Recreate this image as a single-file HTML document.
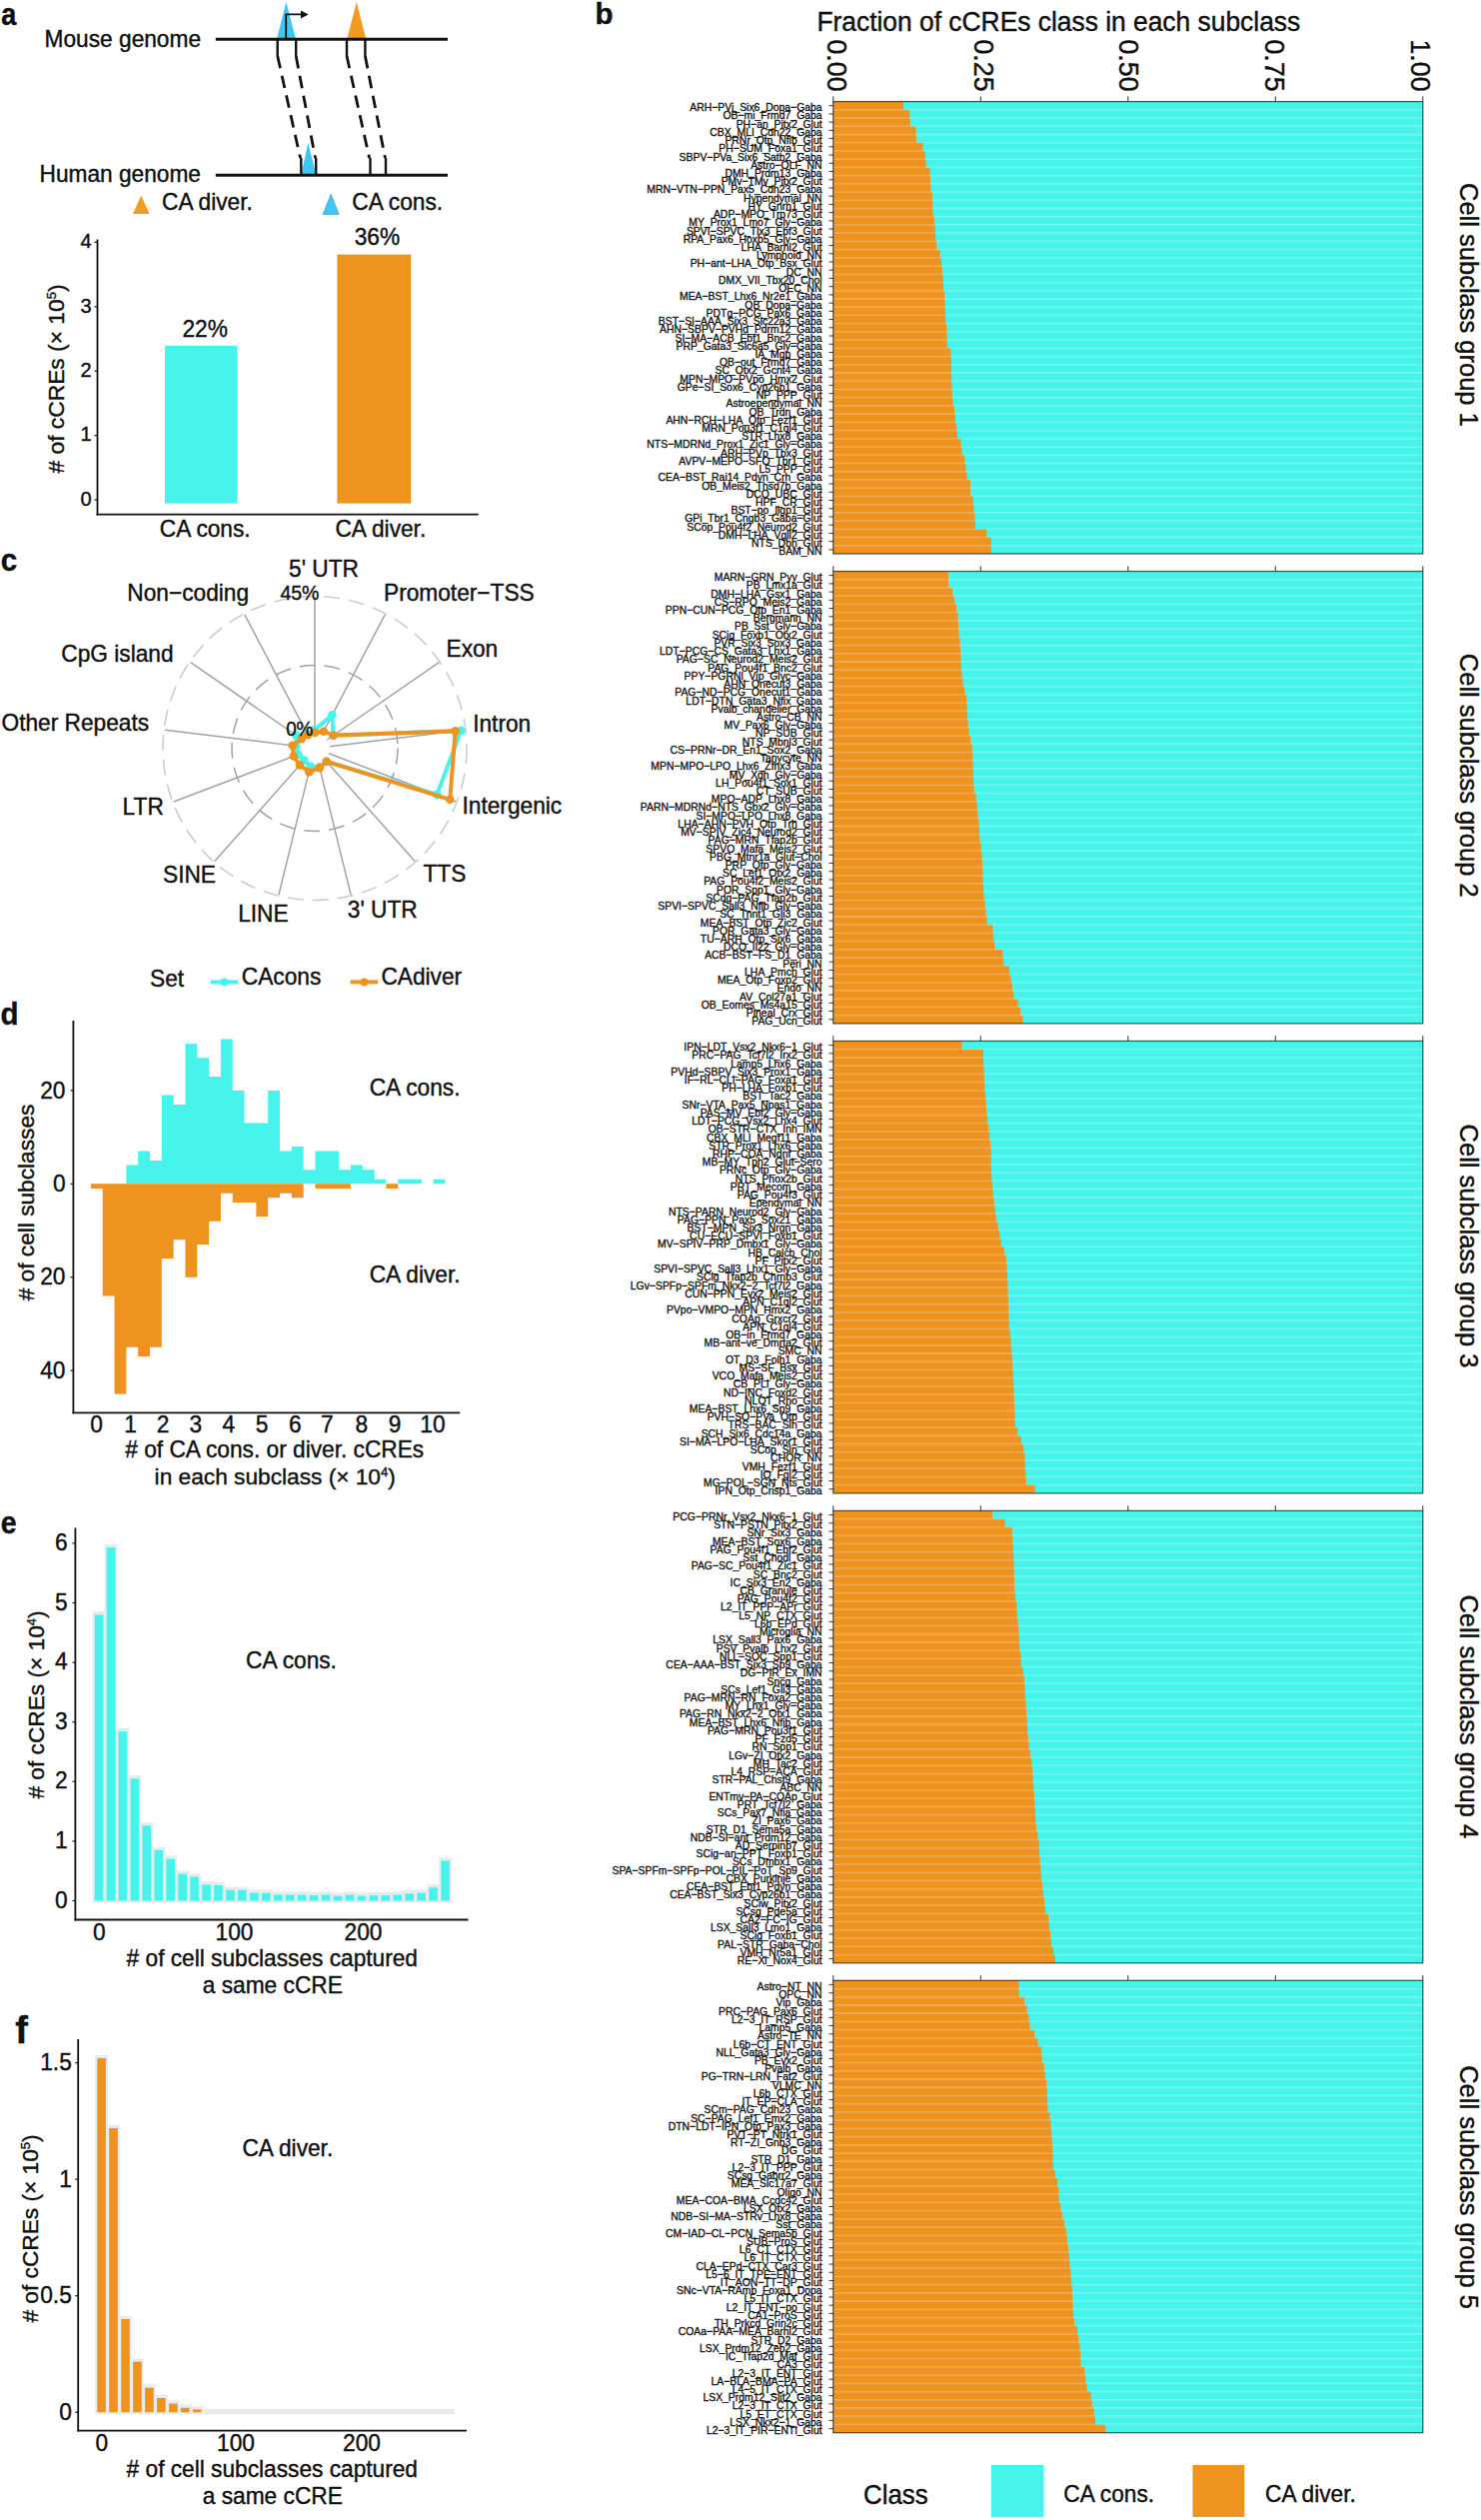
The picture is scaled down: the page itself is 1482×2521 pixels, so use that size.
<!DOCTYPE html>
<html><head><meta charset="utf-8"><title>Figure</title>
<style>html,body{margin:0;padding:0;background:#fff;}svg{display:block;}text{font-family:"Liberation Sans",sans-serif;stroke:#111;stroke-width:0.4px;} g.lbl text{stroke-width:0.32px;}</style>
</head><body>
<svg xmlns="http://www.w3.org/2000/svg" width="1482" height="2521" viewBox="0 0 1482 2521" font-family='"Liberation Sans", sans-serif'><text transform="translate(1.30,25.40) scale(1,1.15)" font-size="27" font-weight="bold" fill="#111111">a</text>
<text transform="translate(595.50,24.20) scale(1,1.02)" font-size="29.5" font-weight="bold" fill="#111111">b</text>
<text transform="translate(0.80,571.20) scale(1,1.04)" font-size="29.5" font-weight="bold" fill="#111111">c</text>
<text transform="translate(0.60,1025.00) scale(1,1.04)" font-size="29.5" font-weight="bold" fill="#111111">d</text>
<text transform="translate(0.80,1533.60) scale(1,1.1)" font-size="28.5" font-weight="bold" fill="#111111">e</text>
<text x="15.20" y="2044.00" font-size="38" font-weight="bold" fill="#111111">f</text>
<text transform="translate(44.60,46.60) scale(1,1.05)" font-size="22.7" fill="#111111">Mouse genome</text>
<text transform="translate(39.50,181.70) scale(1,1.05)" font-size="22.7" fill="#111111">Human genome</text>
<polygon points="277.2,38 286.4,2.1 295.7,38" fill="#40C6F2"/>
<polygon points="347.5,38 356.8,2.1 366,38" fill="#F29B22"/>
<polygon points="301.5,174 308.3,143 316.2,174" fill="#40C6F2"/>
<line x1="215.8" y1="39.2" x2="448" y2="39.2" stroke="#111111" stroke-width="3"/>
<line x1="215.8" y1="175.3" x2="448" y2="175.3" stroke="#111111" stroke-width="3"/>
<path d="M286.2,39 V14.4 H302" fill="none" stroke="#111111" stroke-width="1.8"/>
<polygon points="301,10.4 308.6,14.4 301,18.4" fill="#111111"/>
<line x1="277.7" y1="40" x2="277.7" y2="56" stroke="#111111" stroke-width="2.4"/>
<line x1="277.7" y1="56" x2="300.5" y2="158" stroke="#111111" stroke-width="2.8" stroke-dasharray="12.6,7.6"/>
<line x1="301.3" y1="158" x2="301.3" y2="174" stroke="#111111" stroke-width="2.4"/>
<line x1="296.2" y1="40" x2="296.2" y2="56" stroke="#111111" stroke-width="2.4"/>
<line x1="296.2" y1="56" x2="315.5" y2="158" stroke="#111111" stroke-width="2.8" stroke-dasharray="12.6,7.6"/>
<line x1="316.2" y1="158" x2="316.2" y2="174" stroke="#111111" stroke-width="2.4"/>
<line x1="347.0" y1="40" x2="347.0" y2="56" stroke="#111111" stroke-width="2.4"/>
<line x1="347.0" y1="56" x2="369.6" y2="158" stroke="#111111" stroke-width="2.8" stroke-dasharray="12.6,7.6"/>
<line x1="370.5" y1="158" x2="370.5" y2="174" stroke="#111111" stroke-width="2.4"/>
<line x1="365.4" y1="40" x2="365.4" y2="56" stroke="#111111" stroke-width="2.4"/>
<line x1="365.4" y1="56" x2="385.4" y2="158" stroke="#111111" stroke-width="2.8" stroke-dasharray="12.6,7.6"/>
<line x1="386.0" y1="158" x2="386.0" y2="174" stroke="#111111" stroke-width="2.4"/>
<polygon points="133,214 141.2,195.5 149.5,214" fill="#F29B22"/>
<text transform="translate(162.00,209.60) scale(1,1.05)" font-size="22.7" fill="#111111">CA diver.</text>
<polygon points="323.1,214.5 331.2,194.2 339.2,214.5" fill="#40C6F2" stroke="#5AA6C0" stroke-width="0.8"/>
<text transform="translate(352.30,209.80) scale(1,1.05)" font-size="22.7" fill="#111111">CA cons.</text>
<line x1="97.5" y1="239.4" x2="97.5" y2="515.5" stroke="#111111" stroke-width="1.8"/>
<line x1="96.6" y1="514.6" x2="478.7" y2="514.6" stroke="#111111" stroke-width="1.8"/>
<line x1="94.5" y1="500.0" x2="97.5" y2="500.0" stroke="#111111" stroke-width="1.2"/>
<text x="91.50" y="505.80" font-size="20" text-anchor="end" fill="#111111">0</text>
<line x1="94.5" y1="435.6" x2="97.5" y2="435.6" stroke="#111111" stroke-width="1.2"/>
<text x="91.50" y="441.40" font-size="20" text-anchor="end" fill="#111111">1</text>
<line x1="94.5" y1="371.2" x2="97.5" y2="371.2" stroke="#111111" stroke-width="1.2"/>
<text x="91.50" y="377.00" font-size="20" text-anchor="end" fill="#111111">2</text>
<line x1="94.5" y1="306.8" x2="97.5" y2="306.8" stroke="#111111" stroke-width="1.2"/>
<text x="91.50" y="312.60" font-size="20" text-anchor="end" fill="#111111">3</text>
<line x1="94.5" y1="242.4" x2="97.5" y2="242.4" stroke="#111111" stroke-width="1.2"/>
<text x="91.50" y="248.20" font-size="20" text-anchor="end" fill="#111111">4</text>
<rect x="165" y="345.8" width="72.6" height="157.8" fill="#47F4EB"/>
<rect x="337.4" y="254.6" width="73.8" height="249.0" fill="#EE9220"/>
<text transform="translate(205.20,336.50) scale(1,1.05)" font-size="22.7" text-anchor="middle" fill="#111111">22%</text>
<text transform="translate(377.40,245.30) scale(1,1.05)" font-size="22.7" text-anchor="middle" fill="#111111">36%</text>
<text transform="translate(205.20,536.50) scale(1,1.05)" font-size="22.7" text-anchor="middle" fill="#111111">CA cons.</text>
<text transform="translate(380.80,536.50) scale(1,1.05)" font-size="22.7" text-anchor="middle" fill="#111111">CA diver.</text>
<text transform="translate(64.3,379) rotate(-90)" font-size="22.8" text-anchor="middle" fill="#111111"># of cCREs (× 10<tspan font-size="13" dy="-8">5</tspan><tspan dy="8">)</tspan></text>
<circle cx="315.0" cy="748.5" r="152.0" fill="none" stroke="#CDCDCD" stroke-width="1.6" stroke-dasharray="16,9"/>
<circle cx="315.0" cy="748.5" r="83.0" fill="none" stroke="#A2A2A2" stroke-width="1.5" stroke-dasharray="16,9"/>
<line x1="315.0" y1="733.5" x2="315.0" y2="597.5" stroke="#A3A3A3" stroke-width="1.5"/>
<line x1="322.0" y1="735.2" x2="385.2" y2="614.8" stroke="#A3A3A3" stroke-width="1.5"/>
<line x1="327.3" y1="740.0" x2="439.3" y2="662.7" stroke="#A3A3A3" stroke-width="1.5"/>
<line x1="329.9" y1="746.7" x2="464.9" y2="730.3" stroke="#A3A3A3" stroke-width="1.5"/>
<line x1="329.0" y1="753.8" x2="456.2" y2="802.0" stroke="#A3A3A3" stroke-width="1.5"/>
<line x1="324.9" y1="759.7" x2="415.1" y2="861.5" stroke="#A3A3A3" stroke-width="1.5"/>
<line x1="318.6" y1="763.1" x2="351.1" y2="895.1" stroke="#A3A3A3" stroke-width="1.5"/>
<line x1="311.4" y1="763.1" x2="278.9" y2="895.1" stroke="#A3A3A3" stroke-width="1.5"/>
<line x1="305.1" y1="759.7" x2="214.9" y2="861.5" stroke="#A3A3A3" stroke-width="1.5"/>
<line x1="301.0" y1="753.8" x2="173.8" y2="802.0" stroke="#A3A3A3" stroke-width="1.5"/>
<line x1="300.1" y1="746.7" x2="165.1" y2="730.3" stroke="#A3A3A3" stroke-width="1.5"/>
<line x1="302.7" y1="740.0" x2="190.7" y2="662.7" stroke="#A3A3A3" stroke-width="1.5"/>
<line x1="308.0" y1="735.2" x2="244.8" y2="614.8" stroke="#A3A3A3" stroke-width="1.5"/>
<polygon points="315.0,729.9 332.4,715.4 333.3,735.9 461.3,730.7 437.3,794.9 326.8,761.8 319.7,767.5 310.5,766.6 304.4,760.5 298.4,754.8 296.2,746.2 296.4,735.7 307.3,733.9" fill="none" stroke="#47F4EB" stroke-width="4" stroke-linejoin="round"/>
<circle cx="315.0" cy="729.9" r="4.3" fill="#47F4EB"/>
<circle cx="332.4" cy="715.4" r="4.3" fill="#47F4EB"/>
<circle cx="333.3" cy="735.9" r="4.3" fill="#47F4EB"/>
<circle cx="461.3" cy="730.7" r="4.3" fill="#47F4EB"/>
<circle cx="437.3" cy="794.9" r="4.3" fill="#47F4EB"/>
<circle cx="326.8" cy="761.8" r="4.3" fill="#47F4EB"/>
<circle cx="319.7" cy="767.5" r="4.3" fill="#47F4EB"/>
<circle cx="310.5" cy="766.6" r="4.3" fill="#47F4EB"/>
<circle cx="304.4" cy="760.5" r="4.3" fill="#47F4EB"/>
<circle cx="298.4" cy="754.8" r="4.3" fill="#47F4EB"/>
<circle cx="296.2" cy="746.2" r="4.3" fill="#47F4EB"/>
<circle cx="296.4" cy="735.7" r="4.3" fill="#47F4EB"/>
<circle cx="307.3" cy="733.9" r="4.3" fill="#47F4EB"/>
<polygon points="315.0,732.9 323.8,731.7 333.8,735.5 455.6,731.4 450.3,799.8 326.8,761.8 319.8,768.1 309.2,772.2 300.0,765.4 293.9,756.5 292.6,745.8 301.7,739.3 308.0,735.2" fill="none" stroke="#EE9220" stroke-width="4" stroke-linejoin="round"/>
<circle cx="315.0" cy="732.9" r="4.3" fill="#EE9220"/>
<circle cx="323.8" cy="731.7" r="4.3" fill="#EE9220"/>
<circle cx="333.8" cy="735.5" r="4.3" fill="#EE9220"/>
<circle cx="455.6" cy="731.4" r="4.3" fill="#EE9220"/>
<circle cx="450.3" cy="799.8" r="4.3" fill="#EE9220"/>
<circle cx="326.8" cy="761.8" r="4.3" fill="#EE9220"/>
<circle cx="319.8" cy="768.1" r="4.3" fill="#EE9220"/>
<circle cx="309.2" cy="772.2" r="4.3" fill="#EE9220"/>
<circle cx="300.0" cy="765.4" r="4.3" fill="#EE9220"/>
<circle cx="293.9" cy="756.5" r="4.3" fill="#EE9220"/>
<circle cx="292.6" cy="745.8" r="4.3" fill="#EE9220"/>
<circle cx="301.7" cy="739.3" r="4.3" fill="#EE9220"/>
<circle cx="308.0" cy="735.2" r="4.3" fill="#EE9220"/>
<text transform="translate(289.10,576.70) scale(1,1.05)" font-size="22.7" fill="#111111">5' UTR</text>
<text transform="translate(319.40,599.60) scale(1,1.05)" font-size="19.5" text-anchor="end" fill="#111111">45%</text>
<text transform="translate(313.30,735.60) scale(1,1.05)" font-size="18.8" text-anchor="end" fill="#111111">0%</text>
<text transform="translate(384.00,600.80) scale(1,1.05)" font-size="22.7" fill="#111111">Promoter−TSS</text>
<text transform="translate(446.50,656.70) scale(1,1.05)" font-size="22.7" fill="#111111">Exon</text>
<text transform="translate(473.20,731.70) scale(1,1.05)" font-size="22.7" fill="#111111">Intron</text>
<text transform="translate(462.50,814.30) scale(1,1.05)" font-size="22.7" fill="#111111">Intergenic</text>
<text transform="translate(423.50,882.40) scale(1,1.05)" font-size="22.7" fill="#111111">TTS</text>
<text transform="translate(347.80,918.00) scale(1,1.05)" font-size="22.7" fill="#111111">3' UTR</text>
<text transform="translate(238.20,922.20) scale(1,1.05)" font-size="22.7" fill="#111111">LINE</text>
<text transform="translate(163.00,882.80) scale(1,1.05)" font-size="22.7" fill="#111111">SINE</text>
<text transform="translate(163.80,814.70) scale(1,1.05)" font-size="22.7" text-anchor="end" fill="#111111">LTR</text>
<text transform="translate(1.50,731.00) scale(1,1.05)" font-size="22.7" fill="#111111">Other Repeats</text>
<text transform="translate(61.30,661.50) scale(1,1.05)" font-size="22.7" fill="#111111">CpG island</text>
<text transform="translate(127.30,601.30) scale(1,1.05)" font-size="22.7" fill="#111111">Non−coding</text>
<text transform="translate(150.00,987.30) scale(1,1.05)" font-size="22.7" fill="#111111">Set</text>
<line x1="210.7" y1="982.4" x2="238.3" y2="982.4" stroke="#47F4EB" stroke-width="4"/>
<circle cx="224.5" cy="982.4" r="4" fill="#47F4EB"/>
<text transform="translate(241.80,985.40) scale(1,1.05)" font-size="22.7" fill="#111111">CAcons</text>
<line x1="350.6" y1="982.4" x2="378.2" y2="982.4" stroke="#EE9220" stroke-width="4"/>
<circle cx="364.4" cy="982.4" r="4" fill="#EE9220"/>
<text transform="translate(381.40,985.40) scale(1,1.05)" font-size="22.7" fill="#111111">CAdiver</text>
<path d="M90.90,1184.30 L90.90,1184.30 L102.72,1184.30 L102.72,1184.30 L114.54,1184.30 L114.54,1184.30 L126.36,1184.30 L126.36,1165.62 L138.18,1165.62 L138.18,1151.61 L150.00,1151.61 L150.00,1160.95 L161.82,1160.95 L161.82,1095.57 L173.64,1095.57 L173.64,1104.91 L185.46,1104.91 L185.46,1044.20 L197.28,1044.20 L197.28,1058.21 L209.10,1058.21 L209.10,1076.89 L220.92,1076.89 L220.92,1039.53 L232.74,1039.53 L232.74,1090.90 L244.56,1090.90 L244.56,1123.59 L256.38,1123.59 L256.38,1123.59 L268.20,1123.59 L268.20,1090.90 L280.02,1090.90 L280.02,1151.61 L291.84,1151.61 L291.84,1146.94 L303.66,1146.94 L303.66,1170.29 L315.48,1170.29 L315.48,1151.61 L327.30,1151.61 L327.30,1151.61 L339.12,1151.61 L339.12,1170.29 L350.94,1170.29 L350.94,1165.62 L362.76,1165.62 L362.76,1170.29 L374.58,1170.29 L374.58,1179.63 L386.40,1179.63 L386.40,1184.30 L398.22,1184.30 L398.22,1179.63 L410.04,1179.63 L410.04,1179.63 L421.86,1179.63 L421.86,1184.30 L433.68,1184.30 L433.68,1179.63 L445.50,1179.63 L445.50,1184.30 Z" fill="#47F4EB"/>
<path d="M90.90,1184.30 L90.90,1188.97 L102.72,1188.97 L102.72,1296.38 L114.54,1296.38 L114.54,1394.45 L126.36,1394.45 L126.36,1347.75 L138.18,1347.75 L138.18,1357.09 L150.00,1357.09 L150.00,1347.75 L161.82,1347.75 L161.82,1259.02 L173.64,1259.02 L173.64,1240.34 L185.46,1240.34 L185.46,1277.70 L197.28,1277.70 L197.28,1245.01 L209.10,1245.01 L209.10,1221.66 L220.92,1221.66 L220.92,1193.64 L232.74,1193.64 L232.74,1202.98 L244.56,1202.98 L244.56,1202.98 L256.38,1202.98 L256.38,1216.99 L268.20,1216.99 L268.20,1198.31 L280.02,1198.31 L280.02,1193.64 L291.84,1193.64 L291.84,1198.31 L303.66,1198.31 L303.66,1184.30 L315.48,1184.30 L315.48,1188.97 L327.30,1188.97 L327.30,1188.97 L339.12,1188.97 L339.12,1188.97 L350.94,1188.97 L350.94,1184.30 L362.76,1184.30 L362.76,1184.30 L374.58,1184.30 L374.58,1184.30 L386.40,1184.30 L386.40,1188.97 L398.22,1188.97 L398.22,1184.30 L410.04,1184.30 L410.04,1184.30 L421.86,1184.30 L421.86,1184.30 L433.68,1184.30 L433.68,1184.30 L445.50,1184.30 L445.50,1184.30 Z" fill="#EE9220"/>
<line x1="73.4" y1="1021" x2="73.4" y2="1414.2" stroke="#111111" stroke-width="1.8"/>
<line x1="72.5" y1="1413.3" x2="460.3" y2="1413.3" stroke="#111111" stroke-width="1.8"/>
<line x1="70.5" y1="1090.9" x2="73.4" y2="1090.9" stroke="#111111" stroke-width="1.2"/>
<text transform="translate(65.50,1098.50) scale(1,1.09)" font-size="22.7" text-anchor="end" fill="#111111">20</text>
<line x1="70.5" y1="1184.3" x2="73.4" y2="1184.3" stroke="#111111" stroke-width="1.2"/>
<text transform="translate(65.50,1191.90) scale(1,1.09)" font-size="22.7" text-anchor="end" fill="#111111">0</text>
<line x1="70.5" y1="1277.7" x2="73.4" y2="1277.7" stroke="#111111" stroke-width="1.2"/>
<text transform="translate(65.50,1285.30) scale(1,1.09)" font-size="22.7" text-anchor="end" fill="#111111">20</text>
<line x1="70.5" y1="1371.1" x2="73.4" y2="1371.1" stroke="#111111" stroke-width="1.2"/>
<text transform="translate(65.50,1378.70) scale(1,1.09)" font-size="22.7" text-anchor="end" fill="#111111">40</text>
<text transform="translate(96.50,1432.70) scale(1,1.09)" font-size="22.7" text-anchor="middle" fill="#111111">0</text>
<text transform="translate(130.60,1432.70) scale(1,1.09)" font-size="22.7" text-anchor="middle" fill="#111111">1</text>
<text transform="translate(163.00,1432.70) scale(1,1.09)" font-size="22.7" text-anchor="middle" fill="#111111">2</text>
<text transform="translate(195.70,1432.70) scale(1,1.09)" font-size="22.7" text-anchor="middle" fill="#111111">3</text>
<text transform="translate(228.90,1432.70) scale(1,1.09)" font-size="22.7" text-anchor="middle" fill="#111111">4</text>
<text transform="translate(262.10,1432.70) scale(1,1.09)" font-size="22.7" text-anchor="middle" fill="#111111">5</text>
<text transform="translate(295.30,1432.70) scale(1,1.09)" font-size="22.7" text-anchor="middle" fill="#111111">6</text>
<text transform="translate(327.20,1432.70) scale(1,1.09)" font-size="22.7" text-anchor="middle" fill="#111111">7</text>
<text transform="translate(361.80,1432.70) scale(1,1.09)" font-size="22.7" text-anchor="middle" fill="#111111">8</text>
<text transform="translate(395.00,1432.70) scale(1,1.09)" font-size="22.7" text-anchor="middle" fill="#111111">9</text>
<text transform="translate(432.90,1432.70) scale(1,1.09)" font-size="22.7" text-anchor="middle" fill="#111111">10</text>
<text transform="translate(274.70,1458.00) scale(1,1.05)" font-size="22.7" text-anchor="middle" fill="#111111"># of CA cons. or diver. cCREs</text>
<text x="275.2" y="1484.6" font-size="22.7" text-anchor="middle" fill="#111111">in each subclass (× 10<tspan font-size="13" dy="-8">4</tspan><tspan dy="8">)</tspan></text>
<text transform="translate(460.50,1095.60) scale(1,1.05)" font-size="22.7" text-anchor="end" fill="#111111">CA cons.</text>
<text transform="translate(460.50,1282.60) scale(1,1.05)" font-size="22.7" text-anchor="end" fill="#111111">CA diver.</text>
<text transform="translate(33.5,1203) rotate(-90)" font-size="22.7" text-anchor="middle" fill="#111111"># of cell subclasses</text>
<rect x="92.60" y="1612.22" width="12.8" height="291.28" fill="#E6ECEE"/>
<rect x="104.55" y="1544.87" width="12.8" height="358.63" fill="#E6ECEE"/>
<rect x="116.50" y="1729.04" width="12.8" height="174.46" fill="#E6ECEE"/>
<rect x="128.45" y="1776.12" width="12.8" height="127.38" fill="#E6ECEE"/>
<rect x="140.40" y="1823.20" width="12.8" height="80.30" fill="#E6ECEE"/>
<rect x="152.35" y="1847.64" width="12.8" height="55.86" fill="#E6ECEE"/>
<rect x="164.30" y="1856.58" width="12.8" height="46.92" fill="#E6ECEE"/>
<rect x="176.25" y="1871.48" width="12.8" height="32.02" fill="#E6ECEE"/>
<rect x="188.20" y="1874.46" width="12.8" height="29.04" fill="#E6ECEE"/>
<rect x="200.15" y="1882.21" width="12.8" height="21.29" fill="#E6ECEE"/>
<rect x="212.10" y="1882.80" width="12.8" height="20.70" fill="#E6ECEE"/>
<rect x="224.05" y="1887.57" width="12.8" height="15.93" fill="#E6ECEE"/>
<rect x="236.00" y="1887.57" width="12.8" height="15.93" fill="#E6ECEE"/>
<rect x="247.95" y="1890.55" width="12.8" height="12.95" fill="#E6ECEE"/>
<rect x="259.90" y="1890.55" width="12.8" height="12.95" fill="#E6ECEE"/>
<rect x="271.85" y="1892.34" width="12.8" height="11.16" fill="#E6ECEE"/>
<rect x="283.80" y="1892.34" width="12.8" height="11.16" fill="#E6ECEE"/>
<rect x="295.75" y="1892.34" width="12.8" height="11.16" fill="#E6ECEE"/>
<rect x="307.70" y="1892.94" width="12.8" height="10.56" fill="#E6ECEE"/>
<rect x="319.65" y="1892.34" width="12.8" height="11.16" fill="#E6ECEE"/>
<rect x="331.60" y="1893.53" width="12.8" height="9.97" fill="#E6ECEE"/>
<rect x="343.55" y="1892.34" width="12.8" height="11.16" fill="#E6ECEE"/>
<rect x="355.50" y="1893.53" width="12.8" height="9.97" fill="#E6ECEE"/>
<rect x="367.45" y="1892.94" width="12.8" height="10.56" fill="#E6ECEE"/>
<rect x="379.40" y="1892.94" width="12.8" height="10.56" fill="#E6ECEE"/>
<rect x="391.35" y="1892.34" width="12.8" height="11.16" fill="#E6ECEE"/>
<rect x="403.30" y="1891.15" width="12.8" height="12.35" fill="#E6ECEE"/>
<rect x="415.25" y="1890.55" width="12.8" height="12.95" fill="#E6ECEE"/>
<rect x="427.20" y="1885.19" width="12.8" height="18.31" fill="#E6ECEE"/>
<rect x="439.15" y="1858.37" width="12.8" height="45.13" fill="#E6ECEE"/>
<rect x="94.70" y="1615.42" width="8.6" height="286.08" fill="#47F4EB"/>
<rect x="106.65" y="1548.07" width="8.6" height="353.43" fill="#47F4EB"/>
<rect x="118.60" y="1732.24" width="8.6" height="169.26" fill="#47F4EB"/>
<rect x="130.55" y="1779.32" width="8.6" height="122.18" fill="#47F4EB"/>
<rect x="142.50" y="1826.40" width="8.6" height="75.10" fill="#47F4EB"/>
<rect x="154.45" y="1850.84" width="8.6" height="50.66" fill="#47F4EB"/>
<rect x="166.40" y="1859.78" width="8.6" height="41.72" fill="#47F4EB"/>
<rect x="178.35" y="1874.68" width="8.6" height="26.82" fill="#47F4EB"/>
<rect x="190.30" y="1877.66" width="8.6" height="23.84" fill="#47F4EB"/>
<rect x="202.25" y="1885.41" width="8.6" height="16.09" fill="#47F4EB"/>
<rect x="214.20" y="1886.00" width="8.6" height="15.50" fill="#47F4EB"/>
<rect x="226.15" y="1890.77" width="8.6" height="10.73" fill="#47F4EB"/>
<rect x="238.10" y="1890.77" width="8.6" height="10.73" fill="#47F4EB"/>
<rect x="250.05" y="1893.75" width="8.6" height="7.75" fill="#47F4EB"/>
<rect x="262.00" y="1893.75" width="8.6" height="7.75" fill="#47F4EB"/>
<rect x="273.95" y="1895.54" width="8.6" height="5.96" fill="#47F4EB"/>
<rect x="285.90" y="1895.54" width="8.6" height="5.96" fill="#47F4EB"/>
<rect x="297.85" y="1895.54" width="8.6" height="5.96" fill="#47F4EB"/>
<rect x="309.80" y="1896.14" width="8.6" height="5.36" fill="#47F4EB"/>
<rect x="321.75" y="1895.54" width="8.6" height="5.96" fill="#47F4EB"/>
<rect x="333.70" y="1896.73" width="8.6" height="4.77" fill="#47F4EB"/>
<rect x="345.65" y="1895.54" width="8.6" height="5.96" fill="#47F4EB"/>
<rect x="357.60" y="1896.73" width="8.6" height="4.77" fill="#47F4EB"/>
<rect x="369.55" y="1896.14" width="8.6" height="5.36" fill="#47F4EB"/>
<rect x="381.50" y="1896.14" width="8.6" height="5.36" fill="#47F4EB"/>
<rect x="393.45" y="1895.54" width="8.6" height="5.96" fill="#47F4EB"/>
<rect x="405.40" y="1894.35" width="8.6" height="7.15" fill="#47F4EB"/>
<rect x="417.35" y="1893.75" width="8.6" height="7.75" fill="#47F4EB"/>
<rect x="429.30" y="1888.39" width="8.6" height="13.11" fill="#47F4EB"/>
<rect x="441.25" y="1861.57" width="8.6" height="39.93" fill="#47F4EB"/>
<line x1="75.4" y1="1528.5" x2="75.4" y2="1921.4" stroke="#111111" stroke-width="1.8"/>
<line x1="74.5" y1="1920.5" x2="468.5" y2="1920.5" stroke="#111111" stroke-width="1.8"/>
<line x1="72.5" y1="1901.5" x2="75.4" y2="1901.5" stroke="#111111" stroke-width="1.2"/>
<text transform="translate(67.50,1908.50) scale(1,1.09)" font-size="22.7" text-anchor="end" fill="#111111">0</text>
<line x1="72.5" y1="1841.9" x2="75.4" y2="1841.9" stroke="#111111" stroke-width="1.2"/>
<text transform="translate(67.50,1848.90) scale(1,1.09)" font-size="22.7" text-anchor="end" fill="#111111">1</text>
<line x1="72.5" y1="1782.3" x2="75.4" y2="1782.3" stroke="#111111" stroke-width="1.2"/>
<text transform="translate(67.50,1789.30) scale(1,1.09)" font-size="22.7" text-anchor="end" fill="#111111">2</text>
<line x1="72.5" y1="1722.7" x2="75.4" y2="1722.7" stroke="#111111" stroke-width="1.2"/>
<text transform="translate(67.50,1729.70) scale(1,1.09)" font-size="22.7" text-anchor="end" fill="#111111">3</text>
<line x1="72.5" y1="1663.1" x2="75.4" y2="1663.1" stroke="#111111" stroke-width="1.2"/>
<text transform="translate(67.50,1670.10) scale(1,1.09)" font-size="22.7" text-anchor="end" fill="#111111">4</text>
<line x1="72.5" y1="1603.5" x2="75.4" y2="1603.5" stroke="#111111" stroke-width="1.2"/>
<text transform="translate(67.50,1610.50) scale(1,1.09)" font-size="22.7" text-anchor="end" fill="#111111">5</text>
<line x1="72.5" y1="1543.9" x2="75.4" y2="1543.9" stroke="#111111" stroke-width="1.2"/>
<text transform="translate(67.50,1550.90) scale(1,1.09)" font-size="22.7" text-anchor="end" fill="#111111">6</text>
<text transform="translate(99.30,1941.00) scale(1,1.09)" font-size="22.7" text-anchor="middle" fill="#111111">0</text>
<text transform="translate(234.50,1941.00) scale(1,1.09)" font-size="22.7" text-anchor="middle" fill="#111111">100</text>
<text transform="translate(363.50,1941.00) scale(1,1.09)" font-size="22.7" text-anchor="middle" fill="#111111">200</text>
<text transform="translate(272.30,1967.40) scale(1,1.05)" font-size="22.7" text-anchor="middle" fill="#111111"># of cell subclasses captured</text>
<text transform="translate(272.80,1994.00) scale(1,1.05)" font-size="22.7" text-anchor="middle" fill="#111111">a same cCRE</text>
<text transform="translate(291.50,1668.50) scale(1,1.05)" font-size="22.7" text-anchor="middle" fill="#111111">CA cons.</text>
<text transform="translate(43.5,1705.5) rotate(-90)" font-size="22.7" text-anchor="middle" fill="#111111"># of cCREs (× 10<tspan font-size="13" dy="-8">4</tspan><tspan dy="8">)</tspan></text>
<rect x="95.20" y="2055.84" width="12.8" height="359.36" fill="#E6ECEE"/>
<rect x="107.15" y="2125.74" width="12.8" height="289.46" fill="#E6ECEE"/>
<rect x="119.10" y="2316.80" width="12.8" height="98.40" fill="#E6ECEE"/>
<rect x="131.05" y="2359.44" width="12.8" height="55.76" fill="#E6ECEE"/>
<rect x="143.00" y="2385.53" width="12.8" height="29.67" fill="#E6ECEE"/>
<rect x="154.95" y="2395.79" width="12.8" height="19.41" fill="#E6ECEE"/>
<rect x="166.90" y="2401.38" width="12.8" height="13.82" fill="#E6ECEE"/>
<rect x="178.85" y="2405.57" width="12.8" height="9.63" fill="#E6ECEE"/>
<rect x="190.80" y="2407.20" width="12.8" height="8.00" fill="#E6ECEE"/>
<rect x="202.75" y="2410.00" width="12.8" height="5.20" fill="#E6ECEE"/>
<rect x="214.70" y="2410.00" width="12.8" height="5.20" fill="#E6ECEE"/>
<rect x="226.65" y="2410.00" width="12.8" height="5.20" fill="#E6ECEE"/>
<rect x="238.60" y="2410.00" width="12.8" height="5.20" fill="#E6ECEE"/>
<rect x="250.55" y="2410.00" width="12.8" height="5.20" fill="#E6ECEE"/>
<rect x="262.50" y="2410.00" width="12.8" height="5.20" fill="#E6ECEE"/>
<rect x="274.45" y="2410.00" width="12.8" height="5.20" fill="#E6ECEE"/>
<rect x="286.40" y="2410.00" width="12.8" height="5.20" fill="#E6ECEE"/>
<rect x="298.35" y="2410.00" width="12.8" height="5.20" fill="#E6ECEE"/>
<rect x="310.30" y="2410.00" width="12.8" height="5.20" fill="#E6ECEE"/>
<rect x="322.25" y="2410.00" width="12.8" height="5.20" fill="#E6ECEE"/>
<rect x="334.20" y="2410.00" width="12.8" height="5.20" fill="#E6ECEE"/>
<rect x="346.15" y="2410.00" width="12.8" height="5.20" fill="#E6ECEE"/>
<rect x="358.10" y="2410.00" width="12.8" height="5.20" fill="#E6ECEE"/>
<rect x="370.05" y="2410.00" width="12.8" height="5.20" fill="#E6ECEE"/>
<rect x="382.00" y="2410.00" width="12.8" height="5.20" fill="#E6ECEE"/>
<rect x="393.95" y="2410.00" width="12.8" height="5.20" fill="#E6ECEE"/>
<rect x="405.90" y="2410.00" width="12.8" height="5.20" fill="#E6ECEE"/>
<rect x="417.85" y="2410.00" width="12.8" height="5.20" fill="#E6ECEE"/>
<rect x="429.80" y="2410.00" width="12.8" height="5.20" fill="#E6ECEE"/>
<rect x="441.75" y="2410.00" width="12.8" height="5.20" fill="#E6ECEE"/>
<rect x="97.30" y="2059.04" width="8.6" height="354.16" fill="#EE9220"/>
<rect x="109.25" y="2128.94" width="8.6" height="284.26" fill="#EE9220"/>
<rect x="121.20" y="2320.00" width="8.6" height="93.20" fill="#EE9220"/>
<rect x="133.15" y="2362.64" width="8.6" height="50.56" fill="#EE9220"/>
<rect x="145.10" y="2388.73" width="8.6" height="24.47" fill="#EE9220"/>
<rect x="157.05" y="2398.99" width="8.6" height="14.21" fill="#EE9220"/>
<rect x="169.00" y="2404.58" width="8.6" height="8.62" fill="#EE9220"/>
<rect x="180.95" y="2408.77" width="8.6" height="4.43" fill="#EE9220"/>
<rect x="192.90" y="2410.40" width="8.6" height="2.80" fill="#EE9220"/>
<rect x="204.85" y="2413.20" width="8.6" height="0.00" fill="#EE9220"/>
<rect x="216.80" y="2413.20" width="8.6" height="0.00" fill="#EE9220"/>
<rect x="228.75" y="2413.20" width="8.6" height="0.00" fill="#EE9220"/>
<rect x="240.70" y="2413.20" width="8.6" height="0.00" fill="#EE9220"/>
<rect x="252.65" y="2413.20" width="8.6" height="0.00" fill="#EE9220"/>
<rect x="264.60" y="2413.20" width="8.6" height="0.00" fill="#EE9220"/>
<rect x="276.55" y="2413.20" width="8.6" height="0.00" fill="#EE9220"/>
<rect x="288.50" y="2413.20" width="8.6" height="0.00" fill="#EE9220"/>
<rect x="300.45" y="2413.20" width="8.6" height="0.00" fill="#EE9220"/>
<rect x="312.40" y="2413.20" width="8.6" height="0.00" fill="#EE9220"/>
<rect x="324.35" y="2413.20" width="8.6" height="0.00" fill="#EE9220"/>
<rect x="336.30" y="2413.20" width="8.6" height="0.00" fill="#EE9220"/>
<rect x="348.25" y="2413.20" width="8.6" height="0.00" fill="#EE9220"/>
<rect x="360.20" y="2413.20" width="8.6" height="0.00" fill="#EE9220"/>
<rect x="372.15" y="2413.20" width="8.6" height="0.00" fill="#EE9220"/>
<rect x="384.10" y="2413.20" width="8.6" height="0.00" fill="#EE9220"/>
<rect x="396.05" y="2413.20" width="8.6" height="0.00" fill="#EE9220"/>
<rect x="408.00" y="2413.20" width="8.6" height="0.00" fill="#EE9220"/>
<rect x="419.95" y="2413.20" width="8.6" height="0.00" fill="#EE9220"/>
<rect x="431.90" y="2413.20" width="8.6" height="0.00" fill="#EE9220"/>
<rect x="443.85" y="2413.20" width="8.6" height="0.00" fill="#EE9220"/>
<line x1="78.2" y1="2040" x2="78.2" y2="2432.6" stroke="#111111" stroke-width="1.8"/>
<line x1="77.3" y1="2431.7" x2="467" y2="2431.7" stroke="#111111" stroke-width="1.8"/>
<line x1="75.3" y1="2413.2" x2="78.2" y2="2413.2" stroke="#111111" stroke-width="1.2"/>
<text transform="translate(71.80,2420.80) scale(1,1.09)" font-size="22.7" text-anchor="end" fill="#111111">0</text>
<line x1="75.3" y1="2296.7" x2="78.2" y2="2296.7" stroke="#111111" stroke-width="1.2"/>
<text transform="translate(71.80,2304.30) scale(1,1.09)" font-size="22.7" text-anchor="end" fill="#111111">0.5</text>
<line x1="75.3" y1="2180.2" x2="78.2" y2="2180.2" stroke="#111111" stroke-width="1.2"/>
<text transform="translate(71.80,2187.80) scale(1,1.09)" font-size="22.7" text-anchor="end" fill="#111111">1</text>
<line x1="75.3" y1="2063.7" x2="78.2" y2="2063.7" stroke="#111111" stroke-width="1.2"/>
<text transform="translate(71.80,2071.30) scale(1,1.09)" font-size="22.7" text-anchor="end" fill="#111111">1.5</text>
<text transform="translate(101.80,2452.00) scale(1,1.09)" font-size="22.7" text-anchor="middle" fill="#111111">0</text>
<text transform="translate(236.00,2452.00) scale(1,1.09)" font-size="22.7" text-anchor="middle" fill="#111111">100</text>
<text transform="translate(362.00,2452.00) scale(1,1.09)" font-size="22.7" text-anchor="middle" fill="#111111">200</text>
<text transform="translate(272.30,2477.70) scale(1,1.05)" font-size="22.7" text-anchor="middle" fill="#111111"># of cell subclasses captured</text>
<text transform="translate(272.80,2504.60) scale(1,1.05)" font-size="22.7" text-anchor="middle" fill="#111111">a same cCRE</text>
<text transform="translate(287.80,2157.10) scale(1,1.05)" font-size="22.7" text-anchor="middle" fill="#111111">CA diver.</text>
<text transform="translate(37.5,2229.5) rotate(-90)" font-size="22.7" text-anchor="middle" fill="#111111"># of cCREs (× 10<tspan font-size="13" dy="-8">5</tspan><tspan dy="8">)</tspan></text>
<text transform="translate(1059.30,30.60) scale(1,1.05)" font-size="26.4" text-anchor="middle" fill="#111111">Fraction of cCREs class in each subclass</text>
<text transform="translate(828.40,91.6) rotate(90)" font-size="26.8" text-anchor="end" fill="#111111">0.00</text>
<text transform="translate(974.90,91.6) rotate(90)" font-size="26.8" text-anchor="end" fill="#111111">0.25</text>
<text transform="translate(1120.40,91.6) rotate(90)" font-size="26.8" text-anchor="end" fill="#111111">0.50</text>
<text transform="translate(1266.40,91.6) rotate(90)" font-size="26.8" text-anchor="end" fill="#111111">0.75</text>
<text transform="translate(1412.10,91.6) rotate(90)" font-size="26.8" text-anchor="end" fill="#111111">1.00</text>
<rect x="833.8" y="101.60" width="590.00" height="452.38" fill="#47F4EB"/>
<path d="M833.8,101.60H904.1V109.82H833.8ZM833.8,109.82H910.3V118.05H833.8ZM833.8,118.05H910.7V126.27H833.8ZM833.8,126.27H916.4V134.50H833.8ZM833.8,134.50H916.9V142.72H833.8ZM833.8,142.72H923.5V150.95H833.8ZM833.8,150.95H925.7V159.17H833.8ZM833.8,159.17H926.5V167.40H833.8ZM833.8,167.40H930.5V175.62H833.8ZM833.8,175.62H930.9V183.85H833.8ZM833.8,183.85H931.4V192.07H833.8ZM833.8,192.07H932.7V200.30H833.8ZM833.8,200.30H933.1V208.52H833.8ZM833.8,208.52H933.6V216.75H833.8ZM833.8,216.75H934.9V224.97H833.8ZM833.8,224.97H935.8V233.20H833.8ZM833.8,233.20H936.2V241.42H833.8ZM833.8,241.42H937.1V249.65H833.8ZM833.8,249.65H940.6V257.88H833.8ZM833.8,257.88H941.9V266.10H833.8ZM833.8,266.10H942.8V274.33H833.8ZM833.8,274.32H943.7V282.55H833.8ZM833.8,282.55H944.1V290.77H833.8ZM833.8,290.77H945.0V299.00H833.8ZM833.8,299.00H945.4V307.23H833.8ZM833.8,307.23H945.8V315.45H833.8ZM833.8,315.45H946.3V323.68H833.8ZM833.8,323.67H947.2V331.90H833.8ZM833.8,331.90H947.4V340.12H833.8ZM833.8,340.12H947.9V348.35H833.8ZM833.8,348.35H951.4V356.58H833.8ZM833.8,356.57H951.9V364.80H833.8ZM833.8,364.80H952.1V373.02H833.8ZM833.8,373.02H952.1V381.25H833.8ZM833.8,381.25H952.4V389.48H833.8ZM833.8,389.48H952.7V397.70H833.8ZM833.8,397.70H953.4V405.92H833.8ZM833.8,405.92H955.0V414.15H833.8ZM833.8,414.15H956.0V422.38H833.8ZM833.8,422.38H956.8V430.60H833.8ZM833.8,430.60H958.0V438.83H833.8ZM833.8,438.82H961.5V447.05H833.8ZM833.8,447.05H962.4V455.27H833.8ZM833.8,455.27H965.2V463.50H833.8ZM833.8,463.50H966.3V471.73H833.8ZM833.8,471.73H967.4V479.95H833.8ZM833.8,479.95H970.9V488.17H833.8ZM833.8,488.17H970.9V496.40H833.8ZM833.8,496.40H973.9V504.62H833.8ZM833.8,504.62H974.4V512.85H833.8ZM833.8,512.85H975.5V521.08H833.8ZM833.8,521.07H976.0V529.30H833.8ZM833.8,529.30H987.1V537.52H833.8ZM833.8,537.52H991.7V545.75H833.8ZM833.8,545.75H991.7V553.98H833.8Z" fill="#EE9220"/>
<path d="M833.8,109.82H1423.8M833.8,118.05H1423.8M833.8,126.27H1423.8M833.8,134.50H1423.8M833.8,142.72H1423.8M833.8,150.95H1423.8M833.8,159.17H1423.8M833.8,167.40H1423.8M833.8,175.62H1423.8M833.8,183.85H1423.8M833.8,192.07H1423.8M833.8,200.30H1423.8M833.8,208.52H1423.8M833.8,216.75H1423.8M833.8,224.97H1423.8M833.8,233.20H1423.8M833.8,241.42H1423.8M833.8,249.65H1423.8M833.8,257.88H1423.8M833.8,266.10H1423.8M833.8,274.32H1423.8M833.8,282.55H1423.8M833.8,290.77H1423.8M833.8,299.00H1423.8M833.8,307.23H1423.8M833.8,315.45H1423.8M833.8,323.67H1423.8M833.8,331.90H1423.8M833.8,340.12H1423.8M833.8,348.35H1423.8M833.8,356.57H1423.8M833.8,364.80H1423.8M833.8,373.02H1423.8M833.8,381.25H1423.8M833.8,389.48H1423.8M833.8,397.70H1423.8M833.8,405.92H1423.8M833.8,414.15H1423.8M833.8,422.38H1423.8M833.8,430.60H1423.8M833.8,438.82H1423.8M833.8,447.05H1423.8M833.8,455.27H1423.8M833.8,463.50H1423.8M833.8,471.73H1423.8M833.8,479.95H1423.8M833.8,488.17H1423.8M833.8,496.40H1423.8M833.8,504.62H1423.8M833.8,512.85H1423.8M833.8,521.07H1423.8M833.8,529.30H1423.8M833.8,537.52H1423.8M833.8,545.75H1423.8" stroke="#FFFFFF" stroke-opacity="0.2" stroke-width="1.8" fill="none"/>
<rect x="833.8" y="101.60" width="590.00" height="452.38" fill="none" stroke="#2E3838" stroke-opacity="0.85" stroke-width="1.25"/>
<path d="M833.80,96.40V101.60M981.30,96.40V101.60M1128.80,96.40V101.60M1276.30,96.40V101.60M1423.80,96.40V101.60M829.6,105.71H833.8M829.6,113.94H833.8M829.6,122.16H833.8M829.6,130.39H833.8M829.6,138.61H833.8M829.6,146.84H833.8M829.6,155.06H833.8M829.6,163.29H833.8M829.6,171.51H833.8M829.6,179.74H833.8M829.6,187.96H833.8M829.6,196.19H833.8M829.6,204.41H833.8M829.6,212.64H833.8M829.6,220.86H833.8M829.6,229.09H833.8M829.6,237.31H833.8M829.6,245.54H833.8M829.6,253.76H833.8M829.6,261.99H833.8M829.6,270.21H833.8M829.6,278.44H833.8M829.6,286.66H833.8M829.6,294.89H833.8M829.6,303.11H833.8M829.6,311.34H833.8M829.6,319.56H833.8M829.6,327.79H833.8M829.6,336.01H833.8M829.6,344.24H833.8M829.6,352.46H833.8M829.6,360.69H833.8M829.6,368.91H833.8M829.6,377.14H833.8M829.6,385.36H833.8M829.6,393.59H833.8M829.6,401.81H833.8M829.6,410.04H833.8M829.6,418.26H833.8M829.6,426.49H833.8M829.6,434.71H833.8M829.6,442.94H833.8M829.6,451.16H833.8M829.6,459.39H833.8M829.6,467.61H833.8M829.6,475.84H833.8M829.6,484.06H833.8M829.6,492.29H833.8M829.6,500.51H833.8M829.6,508.74H833.8M829.6,516.96H833.8M829.6,525.19H833.8M829.6,533.41H833.8M829.6,541.64H833.8M829.6,549.86H833.8" stroke="#333" stroke-width="1" fill="none"/>
<g class="lbl" font-size="10.42" text-anchor="end" fill="#111111"><text transform="translate(822.6,111.21) scale(1,1.05)">ARH−PVi_Six6_Dopa−Gaba</text><text transform="translate(822.6,119.44) scale(1,1.05)">OB−mi_Frmd7_Gaba</text><text transform="translate(822.6,127.66) scale(1,1.05)">PH−an_Pitx2_Glut</text><text transform="translate(822.6,135.89) scale(1,1.05)">CBX_MLI_Cdh22_Gaba</text><text transform="translate(822.6,144.11) scale(1,1.05)">PRNr_Otp_Nfib_Glut</text><text transform="translate(822.6,152.34) scale(1,1.05)">PH−SUM_Foxa1_Glut</text><text transform="translate(822.6,160.56) scale(1,1.05)">SBPV−PVa_Six6_Satb2_Gaba</text><text transform="translate(822.6,168.79) scale(1,1.05)">Astro−OLF_NN</text><text transform="translate(822.6,177.01) scale(1,1.05)">DMH_Prdm13_Gaba</text><text transform="translate(822.6,185.24) scale(1,1.05)">PMv−TMv_Pitx2_Glut</text><text transform="translate(822.6,193.46) scale(1,1.05)">MRN−VTN−PPN_Pax5_Cdh23_Gaba</text><text transform="translate(822.6,201.69) scale(1,1.05)">Hypendymal_NN</text><text transform="translate(822.6,209.91) scale(1,1.05)">HY_Gnrh1_Glut</text><text transform="translate(822.6,218.14) scale(1,1.05)">ADP−MPO_Trp73_Glut</text><text transform="translate(822.6,226.36) scale(1,1.05)">MY_Prox1_Lmo7_Gly−Gaba</text><text transform="translate(822.6,234.59) scale(1,1.05)">SPVI−SPVC_Tlx3_Ebf3_Glut</text><text transform="translate(822.6,242.81) scale(1,1.05)">RPA_Pax6_Hoxb5_Gly−Gaba</text><text transform="translate(822.6,251.04) scale(1,1.05)">LHA_Barhl2_Glut</text><text transform="translate(822.6,259.26) scale(1,1.05)">Lymphoid_NN</text><text transform="translate(822.6,267.49) scale(1,1.05)">PH−ant−LHA_Otp_Bsx_Glut</text><text transform="translate(822.6,275.71) scale(1,1.05)">DC_NN</text><text transform="translate(822.6,283.94) scale(1,1.05)">DMX_VII_Tbx20_Chol</text><text transform="translate(822.6,292.16) scale(1,1.05)">OEC_NN</text><text transform="translate(822.6,300.39) scale(1,1.05)">MEA−BST_Lhx6_Nr2e1_Gaba</text><text transform="translate(822.6,308.61) scale(1,1.05)">OB_Dopa−Gaba</text><text transform="translate(822.6,316.84) scale(1,1.05)">PDTg−PCG_Pax6_Gaba</text><text transform="translate(822.6,325.06) scale(1,1.05)">BST−SI−AAA_Six3_Slc22a3_Gaba</text><text transform="translate(822.6,333.29) scale(1,1.05)">AHN−SBPV−PVHd_Pdrm12_Gaba</text><text transform="translate(822.6,341.51) scale(1,1.05)">SI−MA−ACB_Ebf1_Bnc2_Gaba</text><text transform="translate(822.6,349.74) scale(1,1.05)">PRP_Gata3_Slc6a5_Gly−Gaba</text><text transform="translate(822.6,357.96) scale(1,1.05)">IA_Mgp_Gaba</text><text transform="translate(822.6,366.19) scale(1,1.05)">OB−out_Frmd7_Gaba</text><text transform="translate(822.6,374.41) scale(1,1.05)">SC_Otx2_Gcnt4_Gaba</text><text transform="translate(822.6,382.64) scale(1,1.05)">MPN−MPO−PVpo_Hmx2_Glut</text><text transform="translate(822.6,390.86) scale(1,1.05)">GPe−SI_Sox6_Cyp26b1_Gaba</text><text transform="translate(822.6,399.09) scale(1,1.05)">NP_PPP_Glut</text><text transform="translate(822.6,407.31) scale(1,1.05)">Astroependymal_NN</text><text transform="translate(822.6,415.54) scale(1,1.05)">OB_Trdn_Gaba</text><text transform="translate(822.6,423.76) scale(1,1.05)">AHN−RCH−LHA_Otp_Fezf1_Glut</text><text transform="translate(822.6,431.99) scale(1,1.05)">MRN_Pou3f1_C1ql4_Glut</text><text transform="translate(822.6,440.21) scale(1,1.05)">STR_Lhx8_Gaba</text><text transform="translate(822.6,448.44) scale(1,1.05)">NTS−MDRNd_Prox1_Zic1_Gly−Gaba</text><text transform="translate(822.6,456.66) scale(1,1.05)">ARH−PVp_Tbx3_Glut</text><text transform="translate(822.6,464.89) scale(1,1.05)">AVPV−MEPO−SFO_Tbr1_Glut</text><text transform="translate(822.6,473.11) scale(1,1.05)">L5_PPP_Glut</text><text transform="translate(822.6,481.34) scale(1,1.05)">CEA−BST_Rai14_Pdyn_Crh_Gaba</text><text transform="translate(822.6,489.56) scale(1,1.05)">OB_Meis2_Thsd7b_Gaba</text><text transform="translate(822.6,497.79) scale(1,1.05)">DCO_UBC_Glut</text><text transform="translate(822.6,506.01) scale(1,1.05)">HPF_CR_Glut</text><text transform="translate(822.6,514.24) scale(1,1.05)">BST−po_Iigp1_Glut</text><text transform="translate(822.6,522.46) scale(1,1.05)">GPi_Tbr1_Cngb3_Gaba−Glut</text><text transform="translate(822.6,530.69) scale(1,1.05)">SCop_Pou4f2_Neurod2_Glut</text><text transform="translate(822.6,538.91) scale(1,1.05)">DMH−LHA_Vgll2_Glut</text><text transform="translate(822.6,547.14) scale(1,1.05)">NTS_Dbh_Glut</text><text transform="translate(822.6,555.36) scale(1,1.05)">BAM_NN</text></g>
<text transform="translate(1460.8,304.9) rotate(90)" font-size="25.5" text-anchor="middle" fill="#111111">Cell subclass group 1</text>
<rect x="833.8" y="571.53" width="590.00" height="452.38" fill="#47F4EB"/>
<path d="M833.8,571.53H948.9V579.75H833.8ZM833.8,579.75H948.9V587.98H833.8ZM833.8,587.98H952.9V596.21H833.8ZM833.8,596.20H954.9V604.43H833.8ZM833.8,604.43H957.0V612.65H833.8ZM833.8,612.65H958.5V620.88H833.8ZM833.8,620.88H959.0V629.11H833.8ZM833.8,629.11H959.5V637.33H833.8ZM833.8,637.33H960.5V645.55H833.8ZM833.8,645.55H961.0V653.78H833.8ZM833.8,653.78H961.5V662.00H833.8ZM833.8,662.00H962.0V670.23H833.8ZM833.8,670.23H962.5V678.46H833.8ZM833.8,678.45H963.6V686.68H833.8ZM833.8,686.68H965.3V694.90H833.8ZM833.8,694.90H967.1V703.13H833.8ZM833.8,703.13H967.6V711.36H833.8ZM833.8,711.36H968.1V719.58H833.8ZM833.8,719.58H968.6V727.80H833.8ZM833.8,727.80H969.6V736.03H833.8ZM833.8,736.03H971.1V744.25H833.8ZM833.8,744.25H972.7V752.48H833.8ZM833.8,752.48H973.2V760.71H833.8ZM833.8,760.70H973.5V768.93H833.8ZM833.8,768.93H973.7V777.15H833.8ZM833.8,777.15H974.2V785.38H833.8ZM833.8,785.38H974.7V793.61H833.8ZM833.8,793.61H976.7V801.83H833.8ZM833.8,801.83H977.8V810.05H833.8ZM833.8,810.05H978.5V818.28H833.8ZM833.8,818.28H979.5V826.50H833.8ZM833.8,826.50H980.0V834.73H833.8ZM833.8,834.73H980.5V842.96H833.8ZM833.8,842.95H981.5V851.18H833.8ZM833.8,851.18H982.5V859.40H833.8ZM833.8,859.40H983.0V867.63H833.8ZM833.8,867.63H983.3V875.85H833.8ZM833.8,875.86H983.6V884.08H833.8ZM833.8,884.08H984.1V892.30H833.8ZM833.8,892.30H984.6V900.53H833.8ZM833.8,900.53H985.6V908.75H833.8ZM833.8,908.75H986.6V916.98H833.8ZM833.8,916.98H987.6V925.21H833.8ZM833.8,925.20H993.2V933.43H833.8ZM833.8,933.43H994.2V941.65H833.8ZM833.8,941.65H995.2V949.88H833.8ZM833.8,949.88H1003.3V958.10H833.8ZM833.8,958.11H1004.3V966.33H833.8ZM833.8,966.33H1009.9V974.55H833.8ZM833.8,974.55H1011.4V982.78H833.8ZM833.8,982.78H1012.9V991.00H833.8ZM833.8,991.00H1014.4V999.23H833.8ZM833.8,999.23H1018.5V1007.46H833.8ZM833.8,1007.45H1021.0V1015.68H833.8ZM833.8,1015.68H1023.6V1023.90H833.8Z" fill="#EE9220"/>
<path d="M833.8,579.75H1423.8M833.8,587.98H1423.8M833.8,596.20H1423.8M833.8,604.43H1423.8M833.8,612.65H1423.8M833.8,620.88H1423.8M833.8,629.11H1423.8M833.8,637.33H1423.8M833.8,645.55H1423.8M833.8,653.78H1423.8M833.8,662.00H1423.8M833.8,670.23H1423.8M833.8,678.45H1423.8M833.8,686.68H1423.8M833.8,694.90H1423.8M833.8,703.13H1423.8M833.8,711.36H1423.8M833.8,719.58H1423.8M833.8,727.80H1423.8M833.8,736.03H1423.8M833.8,744.25H1423.8M833.8,752.48H1423.8M833.8,760.70H1423.8M833.8,768.93H1423.8M833.8,777.15H1423.8M833.8,785.38H1423.8M833.8,793.61H1423.8M833.8,801.83H1423.8M833.8,810.05H1423.8M833.8,818.28H1423.8M833.8,826.50H1423.8M833.8,834.73H1423.8M833.8,842.95H1423.8M833.8,851.18H1423.8M833.8,859.40H1423.8M833.8,867.63H1423.8M833.8,875.86H1423.8M833.8,884.08H1423.8M833.8,892.30H1423.8M833.8,900.53H1423.8M833.8,908.75H1423.8M833.8,916.98H1423.8M833.8,925.20H1423.8M833.8,933.43H1423.8M833.8,941.65H1423.8M833.8,949.88H1423.8M833.8,958.11H1423.8M833.8,966.33H1423.8M833.8,974.55H1423.8M833.8,982.78H1423.8M833.8,991.00H1423.8M833.8,999.23H1423.8M833.8,1007.45H1423.8M833.8,1015.68H1423.8" stroke="#FFFFFF" stroke-opacity="0.2" stroke-width="1.8" fill="none"/>
<rect x="833.8" y="571.53" width="590.00" height="452.38" fill="none" stroke="#2E3838" stroke-opacity="0.85" stroke-width="1.25"/>
<path d="M833.80,566.33V571.53M981.30,566.33V571.53M1128.80,566.33V571.53M1276.30,566.33V571.53M1423.80,566.33V571.53M829.6,575.64H833.8M829.6,583.87H833.8M829.6,592.09H833.8M829.6,600.32H833.8M829.6,608.54H833.8M829.6,616.77H833.8M829.6,624.99H833.8M829.6,633.22H833.8M829.6,641.44H833.8M829.6,649.67H833.8M829.6,657.89H833.8M829.6,666.12H833.8M829.6,674.34H833.8M829.6,682.57H833.8M829.6,690.79H833.8M829.6,699.02H833.8M829.6,707.24H833.8M829.6,715.47H833.8M829.6,723.69H833.8M829.6,731.92H833.8M829.6,740.14H833.8M829.6,748.37H833.8M829.6,756.59H833.8M829.6,764.82H833.8M829.6,773.04H833.8M829.6,781.27H833.8M829.6,789.49H833.8M829.6,797.72H833.8M829.6,805.94H833.8M829.6,814.17H833.8M829.6,822.39H833.8M829.6,830.62H833.8M829.6,838.84H833.8M829.6,847.07H833.8M829.6,855.29H833.8M829.6,863.52H833.8M829.6,871.74H833.8M829.6,879.97H833.8M829.6,888.19H833.8M829.6,896.42H833.8M829.6,904.64H833.8M829.6,912.87H833.8M829.6,921.09H833.8M829.6,929.32H833.8M829.6,937.54H833.8M829.6,945.77H833.8M829.6,953.99H833.8M829.6,962.22H833.8M829.6,970.44H833.8M829.6,978.67H833.8M829.6,986.89H833.8M829.6,995.12H833.8M829.6,1003.34H833.8M829.6,1011.57H833.8M829.6,1019.79H833.8" stroke="#333" stroke-width="1" fill="none"/>
<g class="lbl" font-size="10.42" text-anchor="end" fill="#111111"><text transform="translate(822.6,581.14) scale(1,1.05)">MARN−GRN_Pyy_Glut</text><text transform="translate(822.6,589.37) scale(1,1.05)">PB_Lmx1a_Glut</text><text transform="translate(822.6,597.59) scale(1,1.05)">DMH−LHA_Gsx1_Gaba</text><text transform="translate(822.6,605.82) scale(1,1.05)">CS−RPO_Meis2_Gaba</text><text transform="translate(822.6,614.04) scale(1,1.05)">PPN−CUN−PCG_Otp_En1_Gaba</text><text transform="translate(822.6,622.27) scale(1,1.05)">Bergmann_NN</text><text transform="translate(822.6,630.49) scale(1,1.05)">PB_Sst_Gly−Gaba</text><text transform="translate(822.6,638.72) scale(1,1.05)">SCig_Foxb1_Otx2_Glut</text><text transform="translate(822.6,646.94) scale(1,1.05)">PVR_Six3_Sox3_Gaba</text><text transform="translate(822.6,655.17) scale(1,1.05)">LDT−PCG−CS_Gata3_Lhx1_Gaba</text><text transform="translate(822.6,663.39) scale(1,1.05)">PAG−SC_Neurod2_Meis2_Glut</text><text transform="translate(822.6,671.62) scale(1,1.05)">PAG_Pou4f1_Bnc2_Glut</text><text transform="translate(822.6,679.84) scale(1,1.05)">PPY−PGRNl_Vip_Glyc−Gaba</text><text transform="translate(822.6,688.07) scale(1,1.05)">AHN_Onecut3_Gaba</text><text transform="translate(822.6,696.29) scale(1,1.05)">PAG−ND−PCG_Onecut1_Gaba</text><text transform="translate(822.6,704.52) scale(1,1.05)">LDT−DTN_Gata3_Nfix_Gaba</text><text transform="translate(822.6,712.74) scale(1,1.05)">Pvalb_chandelier_Gaba</text><text transform="translate(822.6,720.97) scale(1,1.05)">Astro−CB_NN</text><text transform="translate(822.6,729.19) scale(1,1.05)">MV_Pax6_Gly−Gaba</text><text transform="translate(822.6,737.42) scale(1,1.05)">NP_SUB_Glut</text><text transform="translate(822.6,745.64) scale(1,1.05)">NTS_Mbnl3_Glut</text><text transform="translate(822.6,753.87) scale(1,1.05)">CS−PRNr−DR_En1_Sox2_Gaba</text><text transform="translate(822.6,762.09) scale(1,1.05)">Tanycyte_NN</text><text transform="translate(822.6,770.32) scale(1,1.05)">MPN−MPO−LPO_Lhx6_Zfhx3_Gaba</text><text transform="translate(822.6,778.54) scale(1,1.05)">MV_Xdh_Gly−Gaba</text><text transform="translate(822.6,786.77) scale(1,1.05)">LH_Pou4f1_Sox1_Glut</text><text transform="translate(822.6,794.99) scale(1,1.05)">CT_SUB_Glut</text><text transform="translate(822.6,803.22) scale(1,1.05)">MPO−ADP_Lhx8_Gaba</text><text transform="translate(822.6,811.44) scale(1,1.05)">PARN−MDRNd−NTS_Gbx2_Gly−Gaba</text><text transform="translate(822.6,819.67) scale(1,1.05)">SI−MPO−LPO_Lhx8_Gaba</text><text transform="translate(822.6,827.89) scale(1,1.05)">LHA−AHN−PVH_Otp_Trh_Glut</text><text transform="translate(822.6,836.12) scale(1,1.05)">MV−SPIV_Zic4_Neurod2_Glut</text><text transform="translate(822.6,844.34) scale(1,1.05)">PAG−MRN_Tfap2b_Glut</text><text transform="translate(822.6,852.57) scale(1,1.05)">SPVO_Mafa_Meis2_Glut</text><text transform="translate(822.6,860.79) scale(1,1.05)">PBG_Mtnr1a_Glut−Chol</text><text transform="translate(822.6,869.02) scale(1,1.05)">PRP_Otp_Gly−Gaba</text><text transform="translate(822.6,877.24) scale(1,1.05)">SC_Lef1_Otx2_Gaba</text><text transform="translate(822.6,885.47) scale(1,1.05)">PAG_Pou4f2_Meis2_Glut</text><text transform="translate(822.6,893.69) scale(1,1.05)">POR_Spp1_Gly−Gaba</text><text transform="translate(822.6,901.92) scale(1,1.05)">SCdg−PAG_Tfap2b_Glut</text><text transform="translate(822.6,910.14) scale(1,1.05)">SPVI−SPVC_Sall3_Nfib_Gly−Gaba</text><text transform="translate(822.6,918.37) scale(1,1.05)">SC_Tnnt1_Gli3_Gaba</text><text transform="translate(822.6,926.59) scale(1,1.05)">MEA−BST_Otp_Zic2_Glut</text><text transform="translate(822.6,934.82) scale(1,1.05)">POR_Gata3_Gly−Gaba</text><text transform="translate(822.6,943.04) scale(1,1.05)">TU−ARH_Otp_Six6_Gaba</text><text transform="translate(822.6,951.27) scale(1,1.05)">DCO_Il22_Gly−Gaba</text><text transform="translate(822.6,959.49) scale(1,1.05)">ACB−BST−FS_D1_Gaba</text><text transform="translate(822.6,967.72) scale(1,1.05)">Peri_NN</text><text transform="translate(822.6,975.94) scale(1,1.05)">LHA_Pmch_Glut</text><text transform="translate(822.6,984.17) scale(1,1.05)">MEA_Otp_Foxp2_Glut</text><text transform="translate(822.6,992.39) scale(1,1.05)">Endo_NN</text><text transform="translate(822.6,1000.62) scale(1,1.05)">AV_Col27a1_Glut</text><text transform="translate(822.6,1008.84) scale(1,1.05)">OB_Eomes_Ms4a15_Glut</text><text transform="translate(822.6,1017.07) scale(1,1.05)">Pineal_Crx_Glut</text><text transform="translate(822.6,1025.29) scale(1,1.05)">PAG_Ucn_Glut</text></g>
<text transform="translate(1460.8,775.7) rotate(90)" font-size="25.5" text-anchor="middle" fill="#111111">Cell subclass group 2</text>
<rect x="833.8" y="1041.46" width="590.00" height="452.38" fill="#47F4EB"/>
<path d="M833.8,1041.46H962.5V1049.68H833.8ZM833.8,1049.68H983.8V1057.91H833.8ZM833.8,1057.91H984.1V1066.13H833.8ZM833.8,1066.13H984.6V1074.36H833.8ZM833.8,1074.36H984.8V1082.59H833.8ZM833.8,1082.59H985.4V1090.81H833.8ZM833.8,1090.81H986.1V1099.03H833.8ZM833.8,1099.04H986.6V1107.26H833.8ZM833.8,1107.26H987.1V1115.48H833.8ZM833.8,1115.49H988.1V1123.71H833.8ZM833.8,1123.71H989.1V1131.93H833.8ZM833.8,1131.93H990.1V1140.16H833.8ZM833.8,1140.16H991.1V1148.38H833.8ZM833.8,1148.38H991.7V1156.61H833.8ZM833.8,1156.61H991.7V1164.84H833.8ZM833.8,1164.84H991.9V1173.06H833.8ZM833.8,1173.06H992.2V1181.28H833.8ZM833.8,1181.29H992.7V1189.51H833.8ZM833.8,1189.51H993.7V1197.73H833.8ZM833.8,1197.74H994.7V1205.96H833.8ZM833.8,1205.96H995.7V1214.18H833.8ZM833.8,1214.18H996.7V1222.41H833.8ZM833.8,1222.41H998.7V1230.63H833.8ZM833.8,1230.63H1000.3V1238.86H833.8ZM833.8,1238.86H1001.8V1247.09H833.8ZM833.8,1247.09H1004.8V1255.31H833.8ZM833.8,1255.31H1006.8V1263.53H833.8ZM833.8,1263.54H1007.4V1271.76H833.8ZM833.8,1271.76H1008.0V1279.98H833.8ZM833.8,1279.99H1008.4V1288.21H833.8ZM833.8,1288.21H1008.6V1296.43H833.8ZM833.8,1296.43H1008.8V1304.66H833.8ZM833.8,1304.66H1009.1V1312.88H833.8ZM833.8,1312.88H1009.4V1321.11H833.8ZM833.8,1321.11H1009.8V1329.34H833.8ZM833.8,1329.34H1010.6V1337.56H833.8ZM833.8,1337.56H1011.7V1345.78H833.8ZM833.8,1345.79H1012.2V1354.01H833.8ZM833.8,1354.01H1012.7V1362.23H833.8ZM833.8,1362.24H1013.2V1370.46H833.8ZM833.8,1370.46H1013.7V1378.68H833.8ZM833.8,1378.68H1014.2V1386.91H833.8ZM833.8,1386.91H1014.5V1395.13H833.8ZM833.8,1395.13H1014.8V1403.36H833.8ZM833.8,1403.36H1015.2V1411.59H833.8ZM833.8,1411.59H1015.5V1419.81H833.8ZM833.8,1419.81H1015.7V1428.03H833.8ZM833.8,1428.04H1018.2V1436.26H833.8ZM833.8,1436.26H1021.8V1444.48H833.8ZM833.8,1444.49H1024.3V1452.71H833.8ZM833.8,1452.71H1025.3V1460.93H833.8ZM833.8,1460.93H1025.8V1469.16H833.8ZM833.8,1469.16H1026.3V1477.38H833.8ZM833.8,1477.38H1026.8V1485.61H833.8ZM833.8,1485.61H1035.5V1493.84H833.8Z" fill="#EE9220"/>
<path d="M833.8,1049.68H1423.8M833.8,1057.91H1423.8M833.8,1066.13H1423.8M833.8,1074.36H1423.8M833.8,1082.59H1423.8M833.8,1090.81H1423.8M833.8,1099.04H1423.8M833.8,1107.26H1423.8M833.8,1115.49H1423.8M833.8,1123.71H1423.8M833.8,1131.93H1423.8M833.8,1140.16H1423.8M833.8,1148.38H1423.8M833.8,1156.61H1423.8M833.8,1164.84H1423.8M833.8,1173.06H1423.8M833.8,1181.29H1423.8M833.8,1189.51H1423.8M833.8,1197.74H1423.8M833.8,1205.96H1423.8M833.8,1214.18H1423.8M833.8,1222.41H1423.8M833.8,1230.63H1423.8M833.8,1238.86H1423.8M833.8,1247.09H1423.8M833.8,1255.31H1423.8M833.8,1263.54H1423.8M833.8,1271.76H1423.8M833.8,1279.99H1423.8M833.8,1288.21H1423.8M833.8,1296.43H1423.8M833.8,1304.66H1423.8M833.8,1312.88H1423.8M833.8,1321.11H1423.8M833.8,1329.34H1423.8M833.8,1337.56H1423.8M833.8,1345.79H1423.8M833.8,1354.01H1423.8M833.8,1362.24H1423.8M833.8,1370.46H1423.8M833.8,1378.68H1423.8M833.8,1386.91H1423.8M833.8,1395.13H1423.8M833.8,1403.36H1423.8M833.8,1411.59H1423.8M833.8,1419.81H1423.8M833.8,1428.04H1423.8M833.8,1436.26H1423.8M833.8,1444.49H1423.8M833.8,1452.71H1423.8M833.8,1460.93H1423.8M833.8,1469.16H1423.8M833.8,1477.38H1423.8M833.8,1485.61H1423.8" stroke="#FFFFFF" stroke-opacity="0.2" stroke-width="1.8" fill="none"/>
<rect x="833.8" y="1041.46" width="590.00" height="452.38" fill="none" stroke="#2E3838" stroke-opacity="0.85" stroke-width="1.25"/>
<path d="M833.80,1036.26V1041.46M981.30,1036.26V1041.46M1128.80,1036.26V1041.46M1276.30,1036.26V1041.46M1423.80,1036.26V1041.46M829.6,1045.57H833.8M829.6,1053.80H833.8M829.6,1062.02H833.8M829.6,1070.25H833.8M829.6,1078.47H833.8M829.6,1086.70H833.8M829.6,1094.92H833.8M829.6,1103.15H833.8M829.6,1111.37H833.8M829.6,1119.60H833.8M829.6,1127.82H833.8M829.6,1136.05H833.8M829.6,1144.27H833.8M829.6,1152.50H833.8M829.6,1160.72H833.8M829.6,1168.95H833.8M829.6,1177.17H833.8M829.6,1185.40H833.8M829.6,1193.62H833.8M829.6,1201.85H833.8M829.6,1210.07H833.8M829.6,1218.30H833.8M829.6,1226.52H833.8M829.6,1234.75H833.8M829.6,1242.97H833.8M829.6,1251.20H833.8M829.6,1259.42H833.8M829.6,1267.65H833.8M829.6,1275.87H833.8M829.6,1284.10H833.8M829.6,1292.32H833.8M829.6,1300.55H833.8M829.6,1308.77H833.8M829.6,1317.00H833.8M829.6,1325.22H833.8M829.6,1333.45H833.8M829.6,1341.67H833.8M829.6,1349.90H833.8M829.6,1358.12H833.8M829.6,1366.35H833.8M829.6,1374.57H833.8M829.6,1382.80H833.8M829.6,1391.02H833.8M829.6,1399.25H833.8M829.6,1407.47H833.8M829.6,1415.70H833.8M829.6,1423.92H833.8M829.6,1432.15H833.8M829.6,1440.37H833.8M829.6,1448.60H833.8M829.6,1456.82H833.8M829.6,1465.05H833.8M829.6,1473.27H833.8M829.6,1481.50H833.8M829.6,1489.72H833.8" stroke="#333" stroke-width="1" fill="none"/>
<g class="lbl" font-size="10.42" text-anchor="end" fill="#111111"><text transform="translate(822.6,1051.07) scale(1,1.05)">IPN−LDT_Vsx2_Nkx6−1_Glut</text><text transform="translate(822.6,1059.30) scale(1,1.05)">PRC−PAG_Tcf7l2_Irx2_Glut</text><text transform="translate(822.6,1067.52) scale(1,1.05)">Lamp5_Lhx6_Gaba</text><text transform="translate(822.6,1075.75) scale(1,1.05)">PVHd−SBPV_Six3_Prox1_Gaba</text><text transform="translate(822.6,1083.97) scale(1,1.05)">IF−RL−CLI−PAG_Foxa1_Glut</text><text transform="translate(822.6,1092.20) scale(1,1.05)">PH−LHA_Foxb1_Glut</text><text transform="translate(822.6,1100.42) scale(1,1.05)">BST_Tac2_Gaba</text><text transform="translate(822.6,1108.65) scale(1,1.05)">SNr−VTA_Pax5_Npas1_Gaba</text><text transform="translate(822.6,1116.87) scale(1,1.05)">PAS−MV_Ebf2_Gly−Gaba</text><text transform="translate(822.6,1125.10) scale(1,1.05)">LDT−PCG_Vsx2_Lhx4_Glut</text><text transform="translate(822.6,1133.32) scale(1,1.05)">OB−STR−CTX_Inh_IMN</text><text transform="translate(822.6,1141.55) scale(1,1.05)">CBX_MLI_Megf11_Gaba</text><text transform="translate(822.6,1149.77) scale(1,1.05)">STR_Prox1_Lhx6_Gaba</text><text transform="translate(822.6,1158.00) scale(1,1.05)">RHP−COA_Ndnf_Gaba</text><text transform="translate(822.6,1166.22) scale(1,1.05)">MB−MY_Tph2_Glut−Sero</text><text transform="translate(822.6,1174.45) scale(1,1.05)">PRNc_Otp_Gly−Gaba</text><text transform="translate(822.6,1182.67) scale(1,1.05)">NTS_Phox2b_Glut</text><text transform="translate(822.6,1190.90) scale(1,1.05)">PRT_Mecom_Gaba</text><text transform="translate(822.6,1199.12) scale(1,1.05)">PAG_Pou4f3_Glut</text><text transform="translate(822.6,1207.35) scale(1,1.05)">Ependymal_NN</text><text transform="translate(822.6,1215.57) scale(1,1.05)">NTS−PARN_Neurod2_Gly−Gaba</text><text transform="translate(822.6,1223.80) scale(1,1.05)">PAG−PPN_Pax5_Sox21_Gaba</text><text transform="translate(822.6,1232.02) scale(1,1.05)">BST−MPN_Six3_Nrgn_Gaba</text><text transform="translate(822.6,1240.25) scale(1,1.05)">CU−ECU−SPVI_Foxb1_Glut</text><text transform="translate(822.6,1248.47) scale(1,1.05)">MV−SPIV−PRP_Dmbx1_Gly−Gaba</text><text transform="translate(822.6,1256.70) scale(1,1.05)">HB_Calcb_Chol</text><text transform="translate(822.6,1264.92) scale(1,1.05)">PF_Pitx2_Glut</text><text transform="translate(822.6,1273.15) scale(1,1.05)">SPVI−SPVC_Sall3_Lhx1_Gly−Gaba</text><text transform="translate(822.6,1281.37) scale(1,1.05)">SCig_Tfap2b_Chrnb3_Glut</text><text transform="translate(822.6,1289.60) scale(1,1.05)">LGv−SPFp−SPFm_Nkx2−2_Tcf7l2_Gaba</text><text transform="translate(822.6,1297.82) scale(1,1.05)">CUN−PPN_Evx2_Meis2_Glut</text><text transform="translate(822.6,1306.05) scale(1,1.05)">APN_C1ql2_Glut</text><text transform="translate(822.6,1314.27) scale(1,1.05)">PVpo−VMPO−MPN_Hmx2_Gaba</text><text transform="translate(822.6,1322.50) scale(1,1.05)">COAp_Grxcr2_Glut</text><text transform="translate(822.6,1330.72) scale(1,1.05)">APN_C1ql4_Glut</text><text transform="translate(822.6,1338.95) scale(1,1.05)">OB−in_Frmd7_Gaba</text><text transform="translate(822.6,1347.17) scale(1,1.05)">MB−ant−ve_Dmrta2_Glut</text><text transform="translate(822.6,1355.40) scale(1,1.05)">SMC_NN</text><text transform="translate(822.6,1363.62) scale(1,1.05)">OT_D3_Folh1_Gaba</text><text transform="translate(822.6,1371.85) scale(1,1.05)">MS−SF_Bsx_Glut</text><text transform="translate(822.6,1380.07) scale(1,1.05)">VCO_Mafa_Meis2_Glut</text><text transform="translate(822.6,1388.30) scale(1,1.05)">CB_PLI_Gly−Gaba</text><text transform="translate(822.6,1396.52) scale(1,1.05)">ND−INC_Foxd2_Glut</text><text transform="translate(822.6,1404.75) scale(1,1.05)">NLOT_Rho_Glut</text><text transform="translate(822.6,1412.97) scale(1,1.05)">MEA−BST_Lhx6_Sp9_Gaba</text><text transform="translate(822.6,1421.20) scale(1,1.05)">PVH−SO−PVa_Otp_Glut</text><text transform="translate(822.6,1429.42) scale(1,1.05)">TRS−BAC_Sln_Glut</text><text transform="translate(822.6,1437.65) scale(1,1.05)">SCH_Six6_Cdc14a_Gaba</text><text transform="translate(822.6,1445.87) scale(1,1.05)">SI−MA−LPO−LHA_Skor1_Glut</text><text transform="translate(822.6,1454.10) scale(1,1.05)">SCop_Sln_Glut</text><text transform="translate(822.6,1462.32) scale(1,1.05)">CHOR_NN</text><text transform="translate(822.6,1470.55) scale(1,1.05)">VMH_Fezf1_Glut</text><text transform="translate(822.6,1478.77) scale(1,1.05)">IO_Fgl2_Glut</text><text transform="translate(822.6,1487.00) scale(1,1.05)">MG−POL−SGN_Nts_Glut</text><text transform="translate(822.6,1495.22) scale(1,1.05)">IPN_Otp_Crisp1_Gaba</text></g>
<text transform="translate(1460.8,1246.5) rotate(90)" font-size="25.5" text-anchor="middle" fill="#111111">Cell subclass group 3</text>
<rect x="833.8" y="1511.39" width="590.00" height="452.38" fill="#47F4EB"/>
<path d="M833.8,1511.39H992.9V1519.61H833.8ZM833.8,1519.61H1005.6V1527.84H833.8ZM833.8,1527.84H1012.7V1536.06H833.8ZM833.8,1536.06H1013.2V1544.29H833.8ZM833.8,1544.29H1013.7V1552.51H833.8ZM833.8,1552.51H1014.2V1560.74H833.8ZM833.8,1560.74H1014.5V1568.96H833.8ZM833.8,1568.96H1014.7V1577.19H833.8ZM833.8,1577.19H1014.9V1585.41H833.8ZM833.8,1585.41H1015.2V1593.64H833.8ZM833.8,1593.64H1016.2V1601.86H833.8ZM833.8,1601.86H1017.2V1610.09H833.8ZM833.8,1610.09H1017.7V1618.31H833.8ZM833.8,1618.31H1018.5V1626.54H833.8ZM833.8,1626.54H1019.3V1634.76H833.8ZM833.8,1634.76H1019.8V1642.99H833.8ZM833.8,1642.99H1020.3V1651.21H833.8ZM833.8,1651.21H1021.3V1659.44H833.8ZM833.8,1659.44H1021.8V1667.66H833.8ZM833.8,1667.66H1023.8V1675.89H833.8ZM833.8,1675.89H1024.8V1684.11H833.8ZM833.8,1684.11H1025.6V1692.34H833.8ZM833.8,1692.34H1026.0V1700.56H833.8ZM833.8,1700.56H1026.6V1708.79H833.8ZM833.8,1708.79H1027.0V1717.01H833.8ZM833.8,1717.01H1027.7V1725.24H833.8ZM833.8,1725.24H1028.1V1733.46H833.8ZM833.8,1733.46H1028.7V1741.69H833.8ZM833.8,1741.69H1029.4V1749.91H833.8ZM833.8,1749.91H1030.8V1758.14H833.8ZM833.8,1758.14H1032.3V1766.36H833.8ZM833.8,1766.36H1033.0V1774.59H833.8ZM833.8,1774.59H1033.8V1782.81H833.8ZM833.8,1782.81H1034.3V1791.04H833.8ZM833.8,1791.04H1034.8V1799.26H833.8ZM833.8,1799.26H1035.3V1807.49H833.8ZM833.8,1807.49H1035.8V1815.71H833.8ZM833.8,1815.71H1036.3V1823.94H833.8ZM833.8,1823.94H1036.8V1832.16H833.8ZM833.8,1832.16H1038.4V1840.39H833.8ZM833.8,1840.39H1039.7V1848.61H833.8ZM833.8,1848.61H1040.1V1856.84H833.8ZM833.8,1856.84H1040.7V1865.06H833.8ZM833.8,1865.06H1041.4V1873.29H833.8ZM833.8,1873.29H1042.1V1881.51H833.8ZM833.8,1881.51H1042.9V1889.74H833.8ZM833.8,1889.74H1043.9V1897.96H833.8ZM833.8,1897.96H1045.0V1906.19H833.8ZM833.8,1906.19H1046.0V1914.41H833.8ZM833.8,1914.41H1049.0V1922.64H833.8ZM833.8,1922.64H1050.0V1930.86H833.8ZM833.8,1930.86H1051.0V1939.09H833.8ZM833.8,1939.09H1052.0V1947.31H833.8ZM833.8,1947.31H1054.1V1955.54H833.8ZM833.8,1955.54H1056.1V1963.76H833.8Z" fill="#EE9220"/>
<path d="M833.8,1519.61H1423.8M833.8,1527.84H1423.8M833.8,1536.06H1423.8M833.8,1544.29H1423.8M833.8,1552.51H1423.8M833.8,1560.74H1423.8M833.8,1568.96H1423.8M833.8,1577.19H1423.8M833.8,1585.41H1423.8M833.8,1593.64H1423.8M833.8,1601.86H1423.8M833.8,1610.09H1423.8M833.8,1618.31H1423.8M833.8,1626.54H1423.8M833.8,1634.76H1423.8M833.8,1642.99H1423.8M833.8,1651.21H1423.8M833.8,1659.44H1423.8M833.8,1667.66H1423.8M833.8,1675.89H1423.8M833.8,1684.11H1423.8M833.8,1692.34H1423.8M833.8,1700.56H1423.8M833.8,1708.79H1423.8M833.8,1717.01H1423.8M833.8,1725.24H1423.8M833.8,1733.46H1423.8M833.8,1741.69H1423.8M833.8,1749.91H1423.8M833.8,1758.14H1423.8M833.8,1766.36H1423.8M833.8,1774.59H1423.8M833.8,1782.81H1423.8M833.8,1791.04H1423.8M833.8,1799.26H1423.8M833.8,1807.49H1423.8M833.8,1815.71H1423.8M833.8,1823.94H1423.8M833.8,1832.16H1423.8M833.8,1840.39H1423.8M833.8,1848.61H1423.8M833.8,1856.84H1423.8M833.8,1865.06H1423.8M833.8,1873.29H1423.8M833.8,1881.51H1423.8M833.8,1889.74H1423.8M833.8,1897.96H1423.8M833.8,1906.19H1423.8M833.8,1914.41H1423.8M833.8,1922.64H1423.8M833.8,1930.86H1423.8M833.8,1939.09H1423.8M833.8,1947.31H1423.8M833.8,1955.54H1423.8" stroke="#FFFFFF" stroke-opacity="0.2" stroke-width="1.8" fill="none"/>
<rect x="833.8" y="1511.39" width="590.00" height="452.38" fill="none" stroke="#2E3838" stroke-opacity="0.85" stroke-width="1.25"/>
<path d="M833.80,1506.19V1511.39M981.30,1506.19V1511.39M1128.80,1506.19V1511.39M1276.30,1506.19V1511.39M1423.80,1506.19V1511.39M829.6,1515.50H833.8M829.6,1523.73H833.8M829.6,1531.95H833.8M829.6,1540.18H833.8M829.6,1548.40H833.8M829.6,1556.63H833.8M829.6,1564.85H833.8M829.6,1573.08H833.8M829.6,1581.30H833.8M829.6,1589.53H833.8M829.6,1597.75H833.8M829.6,1605.98H833.8M829.6,1614.20H833.8M829.6,1622.43H833.8M829.6,1630.65H833.8M829.6,1638.88H833.8M829.6,1647.10H833.8M829.6,1655.33H833.8M829.6,1663.55H833.8M829.6,1671.78H833.8M829.6,1680.00H833.8M829.6,1688.23H833.8M829.6,1696.45H833.8M829.6,1704.68H833.8M829.6,1712.90H833.8M829.6,1721.13H833.8M829.6,1729.35H833.8M829.6,1737.58H833.8M829.6,1745.80H833.8M829.6,1754.03H833.8M829.6,1762.25H833.8M829.6,1770.48H833.8M829.6,1778.70H833.8M829.6,1786.93H833.8M829.6,1795.15H833.8M829.6,1803.38H833.8M829.6,1811.60H833.8M829.6,1819.83H833.8M829.6,1828.05H833.8M829.6,1836.28H833.8M829.6,1844.50H833.8M829.6,1852.73H833.8M829.6,1860.95H833.8M829.6,1869.18H833.8M829.6,1877.40H833.8M829.6,1885.63H833.8M829.6,1893.85H833.8M829.6,1902.08H833.8M829.6,1910.30H833.8M829.6,1918.53H833.8M829.6,1926.75H833.8M829.6,1934.98H833.8M829.6,1943.20H833.8M829.6,1951.43H833.8M829.6,1959.65H833.8" stroke="#333" stroke-width="1" fill="none"/>
<g class="lbl" font-size="10.42" text-anchor="end" fill="#111111"><text transform="translate(822.6,1521.00) scale(1,1.05)">PCG−PRNr_Vsx2_Nkx6−1_Glut</text><text transform="translate(822.6,1529.23) scale(1,1.05)">STN−PSTN_Pitx2_Glut</text><text transform="translate(822.6,1537.45) scale(1,1.05)">SNr_Six3_Gaba</text><text transform="translate(822.6,1545.68) scale(1,1.05)">MEA−BST_Sox6_Gaba</text><text transform="translate(822.6,1553.90) scale(1,1.05)">PAG_Pou4f1_Ebf2_Glut</text><text transform="translate(822.6,1562.13) scale(1,1.05)">Sst_Chodl_Gaba</text><text transform="translate(822.6,1570.35) scale(1,1.05)">PAG−SC_Pou4f1_Zic1_Glut</text><text transform="translate(822.6,1578.58) scale(1,1.05)">SC_Bnc2_Glut</text><text transform="translate(822.6,1586.80) scale(1,1.05)">IC_Six3_En2_Gaba</text><text transform="translate(822.6,1595.03) scale(1,1.05)">CB_Granule_Glut</text><text transform="translate(822.6,1603.25) scale(1,1.05)">PAG_Pou4f2_Glut</text><text transform="translate(822.6,1611.48) scale(1,1.05)">L2_IT_PPP−APr_Glut</text><text transform="translate(822.6,1619.70) scale(1,1.05)">L5_NP_CTX_Glut</text><text transform="translate(822.6,1627.93) scale(1,1.05)">L6b_EPd_Glut</text><text transform="translate(822.6,1636.15) scale(1,1.05)">Microglia_NN</text><text transform="translate(822.6,1644.38) scale(1,1.05)">LSX_Sall3_Pax6_Gaba</text><text transform="translate(822.6,1652.60) scale(1,1.05)">PSV_Pvalb_Lhx2_Glut</text><text transform="translate(822.6,1660.83) scale(1,1.05)">NLL−SOC_Spp1_Glut</text><text transform="translate(822.6,1669.05) scale(1,1.05)">CEA−AAA−BST_Six3_Sp9_Gaba</text><text transform="translate(822.6,1677.28) scale(1,1.05)">DG−PIR_Ex_IMN</text><text transform="translate(822.6,1685.50) scale(1,1.05)">Sncg_Gaba</text><text transform="translate(822.6,1693.73) scale(1,1.05)">SCs_Lef1_Gli3_Gaba</text><text transform="translate(822.6,1701.95) scale(1,1.05)">PAG−MRN−RN_Foxa2_Gaba</text><text transform="translate(822.6,1710.18) scale(1,1.05)">MY_Lhx1_Gly−Gaba</text><text transform="translate(822.6,1718.40) scale(1,1.05)">PAG−RN_Nkx2−2_Otx1_Gaba</text><text transform="translate(822.6,1726.63) scale(1,1.05)">MEA−BST_Lhx6_Nfib_Gaba</text><text transform="translate(822.6,1734.85) scale(1,1.05)">PAG−MRN_Pou3f1_Glut</text><text transform="translate(822.6,1743.08) scale(1,1.05)">PF_Fzd5_Glut</text><text transform="translate(822.6,1751.30) scale(1,1.05)">RN_Spp1_Glut</text><text transform="translate(822.6,1759.53) scale(1,1.05)">LGv−ZI_Otx2_Gaba</text><text transform="translate(822.6,1767.75) scale(1,1.05)">MH_Tac2_Glut</text><text transform="translate(822.6,1775.98) scale(1,1.05)">L4_RSP−ACA_Glut</text><text transform="translate(822.6,1784.20) scale(1,1.05)">STR−PAL_Chst9_Gaba</text><text transform="translate(822.6,1792.43) scale(1,1.05)">ABC_NN</text><text transform="translate(822.6,1800.65) scale(1,1.05)">ENTmv−PA−COAp_Glut</text><text transform="translate(822.6,1808.88) scale(1,1.05)">PRT_Tcf7l2_Gaba</text><text transform="translate(822.6,1817.10) scale(1,1.05)">SCs_Pax7_Nfia_Gaba</text><text transform="translate(822.6,1825.33) scale(1,1.05)">ZI_Pax6_Gaba</text><text transform="translate(822.6,1833.55) scale(1,1.05)">STR_D1_Sema5a_Gaba</text><text transform="translate(822.6,1841.78) scale(1,1.05)">NDB−SI−ant_Prdm12_Gaba</text><text transform="translate(822.6,1850.00) scale(1,1.05)">AD_Serpinb7_Glut</text><text transform="translate(822.6,1858.23) scale(1,1.05)">SCig−an−PPT_Foxb1_Glut</text><text transform="translate(822.6,1866.45) scale(1,1.05)">SCs_Dmbx1_Gaba</text><text transform="translate(822.6,1874.68) scale(1,1.05)">SPA−SPFm−SPFp−POL−PIL−PoT_Sp9_Glut</text><text transform="translate(822.6,1882.90) scale(1,1.05)">CBX_Purkinje_Gaba</text><text transform="translate(822.6,1891.13) scale(1,1.05)">CEA−BST_Ebf1_Pdyn_Gaba</text><text transform="translate(822.6,1899.35) scale(1,1.05)">CEA−BST_Six3_Cyp26b1_Gaba</text><text transform="translate(822.6,1907.58) scale(1,1.05)">SCiw_Pitx2_Glut</text><text transform="translate(822.6,1915.80) scale(1,1.05)">SCsg_Pde5a_Glut</text><text transform="translate(822.6,1924.03) scale(1,1.05)">CA2−FC−IG_Glut</text><text transform="translate(822.6,1932.25) scale(1,1.05)">LSX_Sall3_Lmo1_Gaba</text><text transform="translate(822.6,1940.48) scale(1,1.05)">SCig_Foxb1_Glut</text><text transform="translate(822.6,1948.70) scale(1,1.05)">PAL−STR_Gaba−Chol</text><text transform="translate(822.6,1956.93) scale(1,1.05)">VMH_Nr5a1_Glut</text><text transform="translate(822.6,1965.15) scale(1,1.05)">RE−Xi_Nox4_Glut</text></g>
<text transform="translate(1460.8,1717.3) rotate(90)" font-size="25.5" text-anchor="middle" fill="#111111">Cell subclass group 4</text>
<rect x="833.8" y="1981.32" width="590.00" height="452.38" fill="#47F4EB"/>
<path d="M833.8,1981.32H1019.4V1989.54H833.8ZM833.8,1989.54H1019.6V1997.77H833.8ZM833.8,1997.77H1024.9V2005.99H833.8ZM833.8,2005.99H1027.5V2014.22H833.8ZM833.8,2014.22H1029.5V2022.44H833.8ZM833.8,2022.44H1030.5V2030.67H833.8ZM833.8,2030.67H1035.1V2038.89H833.8ZM833.8,2038.89H1038.6V2047.12H833.8ZM833.8,2047.12H1042.2V2055.34H833.8ZM833.8,2055.34H1042.7V2063.57H833.8ZM833.8,2063.57H1044.7V2071.79H833.8ZM833.8,2071.80H1045.7V2080.02H833.8ZM833.8,2080.02H1047.2V2088.24H833.8ZM833.8,2088.24H1047.7V2096.47H833.8ZM833.8,2096.47H1048.1V2104.69H833.8ZM833.8,2104.69H1048.4V2112.92H833.8ZM833.8,2112.92H1050.6V2121.14H833.8ZM833.8,2121.14H1051.7V2129.37H833.8ZM833.8,2129.37H1052.2V2137.59H833.8ZM833.8,2137.59H1052.7V2145.82H833.8ZM833.8,2145.82H1053.2V2154.04H833.8ZM833.8,2154.05H1053.7V2162.27H833.8ZM833.8,2162.27H1053.9V2170.49H833.8ZM833.8,2170.49H1055.7V2178.72H833.8ZM833.8,2178.72H1058.2V2186.94H833.8ZM833.8,2186.94H1059.3V2195.17H833.8ZM833.8,2195.17H1059.8V2203.39H833.8ZM833.8,2203.39H1061.3V2211.62H833.8ZM833.8,2211.62H1062.8V2219.84H833.8ZM833.8,2219.84H1064.8V2228.07H833.8ZM833.8,2228.07H1066.8V2236.29H833.8ZM833.8,2236.30H1067.9V2244.52H833.8ZM833.8,2244.52H1068.9V2252.74H833.8ZM833.8,2252.74H1069.9V2260.97H833.8ZM833.8,2260.97H1070.4V2269.19H833.8ZM833.8,2269.19H1071.4V2277.42H833.8ZM833.8,2277.42H1072.1V2285.64H833.8ZM833.8,2285.64H1072.7V2293.87H833.8ZM833.8,2293.87H1073.1V2302.09H833.8ZM833.8,2302.09H1073.4V2310.32H833.8ZM833.8,2310.32H1073.9V2318.54H833.8ZM833.8,2318.55H1074.9V2326.77H833.8ZM833.8,2326.77H1078.0V2334.99H833.8ZM833.8,2334.99H1079.2V2343.22H833.8ZM833.8,2343.22H1080.5V2351.44H833.8ZM833.8,2351.44H1081.0V2359.67H833.8ZM833.8,2359.67H1081.5V2367.89H833.8ZM833.8,2367.89H1085.1V2376.12H833.8ZM833.8,2376.12H1086.3V2384.34H833.8ZM833.8,2384.34H1087.6V2392.57H833.8ZM833.8,2392.57H1091.7V2400.79H833.8ZM833.8,2400.80H1092.7V2409.02H833.8ZM833.8,2409.02H1094.7V2417.24H833.8ZM833.8,2417.24H1096.2V2425.47H833.8ZM833.8,2425.47H1106.3V2433.69H833.8Z" fill="#EE9220"/>
<path d="M833.8,1989.54H1423.8M833.8,1997.77H1423.8M833.8,2005.99H1423.8M833.8,2014.22H1423.8M833.8,2022.44H1423.8M833.8,2030.67H1423.8M833.8,2038.89H1423.8M833.8,2047.12H1423.8M833.8,2055.34H1423.8M833.8,2063.57H1423.8M833.8,2071.80H1423.8M833.8,2080.02H1423.8M833.8,2088.24H1423.8M833.8,2096.47H1423.8M833.8,2104.69H1423.8M833.8,2112.92H1423.8M833.8,2121.14H1423.8M833.8,2129.37H1423.8M833.8,2137.59H1423.8M833.8,2145.82H1423.8M833.8,2154.05H1423.8M833.8,2162.27H1423.8M833.8,2170.49H1423.8M833.8,2178.72H1423.8M833.8,2186.94H1423.8M833.8,2195.17H1423.8M833.8,2203.39H1423.8M833.8,2211.62H1423.8M833.8,2219.84H1423.8M833.8,2228.07H1423.8M833.8,2236.30H1423.8M833.8,2244.52H1423.8M833.8,2252.74H1423.8M833.8,2260.97H1423.8M833.8,2269.19H1423.8M833.8,2277.42H1423.8M833.8,2285.64H1423.8M833.8,2293.87H1423.8M833.8,2302.09H1423.8M833.8,2310.32H1423.8M833.8,2318.55H1423.8M833.8,2326.77H1423.8M833.8,2334.99H1423.8M833.8,2343.22H1423.8M833.8,2351.44H1423.8M833.8,2359.67H1423.8M833.8,2367.89H1423.8M833.8,2376.12H1423.8M833.8,2384.34H1423.8M833.8,2392.57H1423.8M833.8,2400.80H1423.8M833.8,2409.02H1423.8M833.8,2417.24H1423.8M833.8,2425.47H1423.8" stroke="#FFFFFF" stroke-opacity="0.2" stroke-width="1.8" fill="none"/>
<rect x="833.8" y="1981.32" width="590.00" height="452.38" fill="none" stroke="#2E3838" stroke-opacity="0.85" stroke-width="1.25"/>
<path d="M833.80,1976.12V1981.32M981.30,1976.12V1981.32M1128.80,1976.12V1981.32M1276.30,1976.12V1981.32M1423.80,1976.12V1981.32M829.6,1985.43H833.8M829.6,1993.66H833.8M829.6,2001.88H833.8M829.6,2010.11H833.8M829.6,2018.33H833.8M829.6,2026.56H833.8M829.6,2034.78H833.8M829.6,2043.01H833.8M829.6,2051.23H833.8M829.6,2059.46H833.8M829.6,2067.68H833.8M829.6,2075.91H833.8M829.6,2084.13H833.8M829.6,2092.36H833.8M829.6,2100.58H833.8M829.6,2108.81H833.8M829.6,2117.03H833.8M829.6,2125.26H833.8M829.6,2133.48H833.8M829.6,2141.71H833.8M829.6,2149.93H833.8M829.6,2158.16H833.8M829.6,2166.38H833.8M829.6,2174.61H833.8M829.6,2182.83H833.8M829.6,2191.06H833.8M829.6,2199.28H833.8M829.6,2207.51H833.8M829.6,2215.73H833.8M829.6,2223.96H833.8M829.6,2232.18H833.8M829.6,2240.41H833.8M829.6,2248.63H833.8M829.6,2256.86H833.8M829.6,2265.08H833.8M829.6,2273.31H833.8M829.6,2281.53H833.8M829.6,2289.76H833.8M829.6,2297.98H833.8M829.6,2306.21H833.8M829.6,2314.43H833.8M829.6,2322.66H833.8M829.6,2330.88H833.8M829.6,2339.11H833.8M829.6,2347.33H833.8M829.6,2355.56H833.8M829.6,2363.78H833.8M829.6,2372.01H833.8M829.6,2380.23H833.8M829.6,2388.46H833.8M829.6,2396.68H833.8M829.6,2404.91H833.8M829.6,2413.13H833.8M829.6,2421.36H833.8M829.6,2429.58H833.8" stroke="#333" stroke-width="1" fill="none"/>
<g class="lbl" font-size="10.42" text-anchor="end" fill="#111111"><text transform="translate(822.6,1990.93) scale(1,1.05)">Astro−NT_NN</text><text transform="translate(822.6,1999.16) scale(1,1.05)">OPC_NN</text><text transform="translate(822.6,2007.38) scale(1,1.05)">Vip_Gaba</text><text transform="translate(822.6,2015.61) scale(1,1.05)">PRC−PAG_Pax6_Glut</text><text transform="translate(822.6,2023.83) scale(1,1.05)">L2−3_IT_RSP_Glut</text><text transform="translate(822.6,2032.06) scale(1,1.05)">Lamp5_Gaba</text><text transform="translate(822.6,2040.28) scale(1,1.05)">Astro−TE_NN</text><text transform="translate(822.6,2048.51) scale(1,1.05)">L6b−CT_ENT_Glut</text><text transform="translate(822.6,2056.73) scale(1,1.05)">NLL_Gata3_Gly−Gaba</text><text transform="translate(822.6,2064.96) scale(1,1.05)">PB_Evx2_Glut</text><text transform="translate(822.6,2073.18) scale(1,1.05)">Pvalb_Gaba</text><text transform="translate(822.6,2081.41) scale(1,1.05)">PG−TRN−LRN_Fat2_Glut</text><text transform="translate(822.6,2089.63) scale(1,1.05)">VLMC_NN</text><text transform="translate(822.6,2097.86) scale(1,1.05)">L6b_CTX_Glut</text><text transform="translate(822.6,2106.08) scale(1,1.05)">IT_EP−CLA_Glut</text><text transform="translate(822.6,2114.31) scale(1,1.05)">SCm−PAG_Cdh23_Gaba</text><text transform="translate(822.6,2122.53) scale(1,1.05)">SC−PAG_Lef1_Emx2_Gaba</text><text transform="translate(822.6,2130.76) scale(1,1.05)">DTN−LDT−IPN_Otp_Pax3_Gaba</text><text transform="translate(822.6,2138.98) scale(1,1.05)">PVT−PT_Ntrk1_Glut</text><text transform="translate(822.6,2147.21) scale(1,1.05)">RT−ZI_Gnb3_Gaba</text><text transform="translate(822.6,2155.43) scale(1,1.05)">DG_Glut</text><text transform="translate(822.6,2163.66) scale(1,1.05)">STR_D1_Gaba</text><text transform="translate(822.6,2171.88) scale(1,1.05)">L2−3_IT_PPP_Glut</text><text transform="translate(822.6,2180.11) scale(1,1.05)">SCsg_Gabrr2_Gaba</text><text transform="translate(822.6,2188.33) scale(1,1.05)">MEA_Slc17a7_Glut</text><text transform="translate(822.6,2196.56) scale(1,1.05)">Oligo_NN</text><text transform="translate(822.6,2204.78) scale(1,1.05)">MEA−COA−BMA_Ccdc42_Glut</text><text transform="translate(822.6,2213.01) scale(1,1.05)">LSX_Otx2_Gaba</text><text transform="translate(822.6,2221.23) scale(1,1.05)">NDB−SI−MA−STRv_Lhx8_Gaba</text><text transform="translate(822.6,2229.46) scale(1,1.05)">Sst_Gaba</text><text transform="translate(822.6,2237.68) scale(1,1.05)">CM−IAD−CL−PCN_Sema5b_Glut</text><text transform="translate(822.6,2245.91) scale(1,1.05)">SUB−ProS_Glut</text><text transform="translate(822.6,2254.13) scale(1,1.05)">L6_CT_CTX_Glut</text><text transform="translate(822.6,2262.36) scale(1,1.05)">L6_IT_CTX_Glut</text><text transform="translate(822.6,2270.58) scale(1,1.05)">CLA−EPd−CTX_Car3_Glut</text><text transform="translate(822.6,2278.81) scale(1,1.05)">L5−6_IT_TPE−ENT_Glut</text><text transform="translate(822.6,2287.03) scale(1,1.05)">IT_AON−TT−DP_Glut</text><text transform="translate(822.6,2295.26) scale(1,1.05)">SNc−VTA−RAmb_Foxa1_Dopa</text><text transform="translate(822.6,2303.48) scale(1,1.05)">L5_IT_CTX_Glut</text><text transform="translate(822.6,2311.71) scale(1,1.05)">L2_IT_ENT−po_Glut</text><text transform="translate(822.6,2319.93) scale(1,1.05)">CA1−ProS_Glut</text><text transform="translate(822.6,2328.16) scale(1,1.05)">TH_Prkcd_Grin2c_Glut</text><text transform="translate(822.6,2336.38) scale(1,1.05)">COAa−PAA−MEA_Barhl2_Glut</text><text transform="translate(822.6,2344.61) scale(1,1.05)">STR_D2_Gaba</text><text transform="translate(822.6,2352.83) scale(1,1.05)">LSX_Prdm12_Zeb2_Gaba</text><text transform="translate(822.6,2361.06) scale(1,1.05)">IC_Tfap2d_Maf_Glut</text><text transform="translate(822.6,2369.28) scale(1,1.05)">CA3_Glut</text><text transform="translate(822.6,2377.51) scale(1,1.05)">L2−3_IT_ENT_Glut</text><text transform="translate(822.6,2385.73) scale(1,1.05)">LA−BLA−BMA−PA_Glut</text><text transform="translate(822.6,2393.96) scale(1,1.05)">L4−5_IT_CTX_Glut</text><text transform="translate(822.6,2402.18) scale(1,1.05)">LSX_Prdm12_Slit2_Gaba</text><text transform="translate(822.6,2410.41) scale(1,1.05)">L2−3_IT_CTX_Glut</text><text transform="translate(822.6,2418.63) scale(1,1.05)">L5_ET_CTX_Glut</text><text transform="translate(822.6,2426.86) scale(1,1.05)">LSX_Nkx2−1_Gaba</text><text transform="translate(822.6,2435.08) scale(1,1.05)">L2−3_IT_PIR−ENTl_Glut</text></g>
<text transform="translate(1460.8,2188.1) rotate(90)" font-size="25.5" text-anchor="middle" fill="#111111">Cell subclass group 5</text>
<text transform="translate(864.00,2505.00) scale(1,1.05)" font-size="25.9" fill="#111111">Class</text>
<rect x="991.8" y="2466" width="52.7" height="52.3" fill="#47F4EB"/>
<text transform="translate(1064.30,2503.20) scale(1,1.05)" font-size="22.7" fill="#111111">CA cons.</text>
<rect x="1193.5" y="2466" width="51.8" height="52" fill="#EE9220"/>
<text transform="translate(1266.00,2503.20) scale(1,1.05)" font-size="22.7" fill="#111111">CA diver.</text></svg>
</body></html>
